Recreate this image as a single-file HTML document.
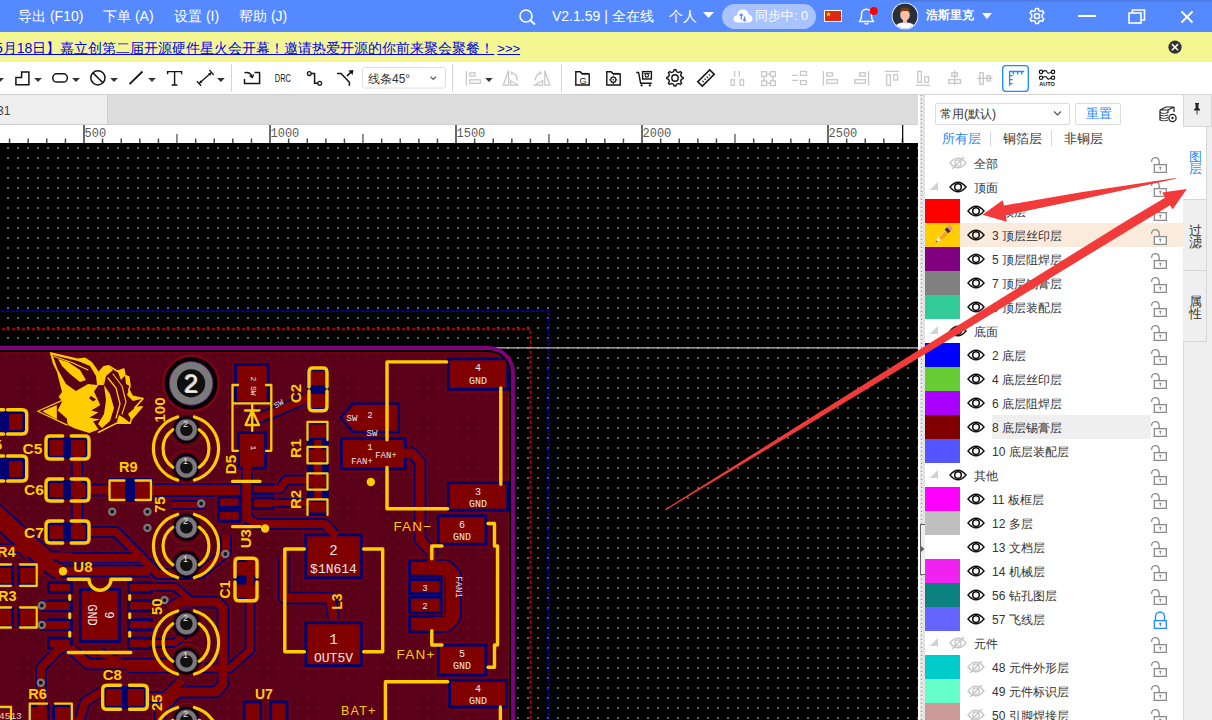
<!DOCTYPE html>
<html><head><meta charset="utf-8">
<style>
*{box-sizing:border-box;margin:0;padding:0}
html,body{width:1212px;height:720px;overflow:hidden;background:#fff;font-family:"Liberation Sans",sans-serif}
.a{position:absolute}
.t{position:absolute;white-space:nowrap;line-height:1}
#top{left:0;top:0;width:1212px;height:32px;background:#5589FF}
#top .t{color:#fff;font-size:14px;top:9px}
#ban{left:0;top:32px;width:1212px;height:30px;background:#F4F791}
#tabs{left:0;top:94px;width:918px;height:31px;background:#DCDCDC;border-top:1px solid #CFCFCF;border-bottom:1px solid #CFCFCF}
</style></head><body>

<!-- TOP BAR -->
<div id="top" class="a">
  <div class="a" style="left:900px;top:0;width:312px;height:3px;background:linear-gradient(#4a78e0,#5589FF)"></div>
  <div class="t" style="left:18px">导出 (F10)</div>
  <div class="t" style="left:103px">下单 (A)</div>
  <div class="t" style="left:174px">设置 (I)</div>
  <div class="t" style="left:239px">帮助 (J)</div>
  <svg class="a" style="left:518px;top:8px" width="20" height="18" viewBox="0 0 20 18"><circle cx="8" cy="8" r="6" fill="none" stroke="#fff" stroke-width="1.6"/><path d="M12.3 12.3L16.5 16" stroke="#fff" stroke-width="1.8" stroke-linecap="round"/></svg>
  <div class="t" style="left:552px">V2.1.59 | 全在线</div>
  <div class="t" style="left:669px">个人</div>
  <svg class="a" style="left:703px;top:12px" width="11" height="7"><path d="M0 0H11L5.5 6Z" fill="#fff"/></svg>
  <div class="a" style="left:722px;top:4px;width:94px;height:25px;border-radius:13px;background:#A8C3FF"></div>
  <svg class="a" style="left:733px;top:8px" width="20" height="16" viewBox="0 0 20 16"><path d="M4.5 14.5C2 14.5 0.5 12.8 0.5 10.8 0.5 8.8 2 7.3 4 7.2 4.4 3.8 7 1.5 10 1.5 13 1.5 15.4 3.6 15.8 6.5 18 6.8 19.5 8.6 19.5 10.7 19.5 12.8 17.8 14.5 15.5 14.5Z" fill="#fff"/><path d="M8.3 6V11.5M6.8 7.5L8.3 6 9.8 7.5M11.5 8.5V13M10 11.5L11.5 13 13 11.5" stroke="#5589FF" stroke-width="1.2" fill="none"/></svg>
  <div class="t" style="left:755px;top:10px;font-size:12.7px">同步中: 0</div>
  <div class="a" style="left:824px;top:10px;width:18px;height:12px;background:#DE2910;border:1px solid #fff"></div>
  <svg class="a" style="left:826px;top:11px" width="7" height="6"><path d="M2.5 0.5L3.2 2.4 5 2.4 3.6 3.6 4.1 5.5 2.5 4.3 0.9 5.5 1.4 3.6 0 2.4 1.8 2.4Z" fill="#FFDE00"/></svg>
  <svg class="a" style="left:857px;top:7px" width="22" height="18" viewBox="0 0 22 18"><path d="M2.5 14.5H16.5C15 13 14.5 11.5 14.5 9V7C14.5 4.2 12.3 2.2 9.5 2.2 6.7 2.2 4.5 4.2 4.5 7V9C4.5 11.5 4 13 2.5 14.5Z" fill="none" stroke="#fff" stroke-width="1.5" stroke-linejoin="round"/><path d="M7.5 16.2Q9.5 18 11.5 16.2" stroke="#fff" stroke-width="1.4" fill="none"/><circle cx="16.8" cy="4" r="4" fill="#F00"/></svg>
  <svg class="a" style="left:891px;top:2px" width="28" height="28" viewBox="0 0 28 28"><defs><clipPath id="av"><circle cx="14" cy="14" r="12.5"/></clipPath></defs><circle cx="14" cy="14" r="13.3" fill="#fff"/><circle cx="14" cy="14" r="12.5" fill="#2B2E3B"/><g clip-path="url(#av)"><path d="M3 28C4 22 8 20.5 14 20.5 20 20.5 24 22 25 28Z" fill="#fff"/><rect x="12" y="16" width="4" height="5" fill="#F2B69A"/><ellipse cx="14" cy="13" rx="4.8" ry="5.8" fill="#F7C2A6"/><path d="M8.8 12C8.5 7 10.5 5.5 14 5.5 17.5 5.5 19.5 7 19.2 12 18.5 9.5 17 9 14 9 11 9 9.5 9.5 8.8 12Z" fill="#7A3A12"/></g></svg>
  <div class="t" style="left:926px;top:9px;font-size:12px;font-weight:bold">浩斯里克</div>
  <svg class="a" style="left:982px;top:13px" width="10" height="6"><path d="M0 0H10L5 6Z" fill="#fff"/></svg>
  <svg class="a" style="left:1028px;top:7px" width="18" height="18" viewBox="0 0 18 18"><path d="M7.6 1.5H10.4L10.9 3.6 12.4 4.4 14.5 3.6 15.9 6 14.3 7.5V10.5L15.9 12 14.5 14.4 12.4 13.6 10.9 14.4 10.4 16.5H7.6L7.1 14.4 5.6 13.6 3.5 14.4 2.1 12 3.7 10.5V7.5L2.1 6 3.5 3.6 5.6 4.4 7.1 3.6Z" fill="none" stroke="#fff" stroke-width="1.5" stroke-linejoin="round"/><circle cx="9" cy="9" r="2.6" fill="none" stroke="#fff" stroke-width="1.5"/></svg>
  <div class="a" style="left:1078px;top:15px;width:18px;height:2px;background:#fff"></div>
  <svg class="a" style="left:1128px;top:9px" width="18" height="15" viewBox="0 0 18 15"><rect x="1" y="4" width="12" height="10" fill="none" stroke="#fff" stroke-width="1.6"/><path d="M4.5 4V1H16.5V11H13" fill="none" stroke="#fff" stroke-width="1.6"/></svg>
  <svg class="a" style="left:1180px;top:10px" width="14" height="14" viewBox="0 0 14 14"><path d="M1.5 1.5L12.5 12.5M12.5 1.5L1.5 12.5" stroke="#fff" stroke-width="1.8"/></svg>
</div>
<!-- BANNER -->
<div id="ban" class="a">
  <div class="t" style="left:-19px;top:9px;font-size:14px;color:#0000EE;text-decoration:underline">【5月18日】嘉立创第二届开源硬件星火会开幕！邀请热爱开源的你前来聚会聚餐！<span style="padding-left:3px;font-size:13px">&gt;&gt;&gt;</span></div>
  <svg class="a" style="left:1168px;top:8px" width="14" height="14" viewBox="0 0 14 14"><circle cx="7" cy="7.2" r="6.6" fill="#333"/><path d="M3.9 4.1L10.1 10.3M10.1 4.1L3.9 10.3" stroke="#fff" stroke-width="1.5"/></svg>
</div>

<!-- TOOLBAR -->
<svg class="a" style="left:0;top:62px" width="1212" height="32" viewBox="0 62 1212 32">
<rect x="0" y="62" width="1212" height="32" fill="#fff"/>
<g fill="#333">
<path d="M-4 78H4L0 82Z"/>
<path d="M34.2 78H41.9L38 82Z"/>
<path d="M72.1 78H80L76 82Z"/>
<path d="M110.1 78H118L114 82Z"/>
<path d="M148.2 78H155.8L152 82Z"/>
<path d="M217 78H224.8L220.9 82Z"/>
<path d="M485.2 78H492.7L489 82Z"/>
</g>
<g fill="none" stroke="#151515" stroke-width="1.5">
<path d="M15.9 84.8V77.6H21.6V71.9H28.9V84.8Z"/>
<rect x="52.75" y="73.85" width="14.6" height="8.2" rx="4.1"/>
<circle cx="97.9" cy="77.8" r="7.1"/>
<path d="M93 72.9L102.9 82.8"/>
<path d="M129.5 84.2L142.5 71.5" stroke-width="1.8"/>
<path d="M167.6 74.2V71.6H181.6V74.2M174.6 71.6V85M171.7 85H177.4" stroke-width="1.4"/>
<path d="M199 83.5L211.5 72.5M196.9 81.2L201.1 85.8M209.4 69.9L213.6 75.1" stroke-width="1.3"/>
<path d="M244.5 79V83.5H259.6V72.5H254.5"/>
<path d="M244.5 72.8Q250.5 71.6 252.3 77.2"/>
<path d="M249.6 75.6L252.4 77.6 253.6 74.6" stroke-width="1.3"/>
<circle cx="309.3" cy="73.6" r="1.9" stroke-width="1.3"/>
<path d="M311.2 73.6H314.6V83.3H317.8"/>
<circle cx="319.7" cy="83.3" r="1.9" stroke-width="1.3"/>
<path d="M337 73.4H341L349.4 82.3V85.8"/>
<path d="M346.9 76.1L351.5 71.6"/>
</g>
<path d="M348.3 70.6L353.3 69.9 352.7 74.9Z" fill="#151515"/>
<g fill="#151515">
<path d="M202.5 82.6L199.6 83.2 200.2 80.3Z"/>
<path d="M208 73.4L211 72.8 210.4 75.7Z"/>
</g>
<text x="274.8" y="81.8" font-family="Liberation Sans" font-size="10.8" textLength="16.2" lengthAdjust="spacingAndGlyphs" fill="#151515">DRC</text>
<rect x="231" y="64" width="1" height="28" fill="#D4D4D4"/>
<rect x="452" y="64" width="1" height="28" fill="#D4D4D4"/>
<rect x="561" y="64" width="1" height="28" fill="#D4D4D4"/>
<rect x="362.5" y="67.5" width="83" height="20.6" rx="2" fill="#fff" stroke="#DCDFE6"/>
<text x="368" y="82.6" font-family="Liberation Sans" font-size="12" fill="#333">线条45°</text>
<path d="M430.6 76.6L433.3 79.4 436 76.6" fill="none" stroke="#555" stroke-width="1.2"/>
<!-- gray icons -->
<g fill="none" stroke="#C8C8C8" stroke-width="1.3">
<path d="M466.4 71.1V85.6"/><rect x="469.9" y="72.9" width="5" height="3.2"/><rect x="469.9" y="79.8" width="10.5" height="3.5"/>
<path d="M503.2 85.2L508.6 70.6V85.2Z"/><path d="M510.6 85.2V80.8L518.6 85.2Z"/><path d="M512.2 72.8Q517.6 74.8 517.2 80.6"/><path d="M511.4 71.6L512.2 72.8 510.8 74"/>
<path d="M534.4 85.2L542.6 80.6V85.2Z"/><path d="M544.8 70.6V85.2H549.8Z"/><path d="M535.4 80.6Q535.4 74.6 541 72.6"/><path d="M539.6 71.6L541 72.6 540.2 74.2"/>
<path d="M734.6 71.1V76.7M739.3 71.1V76.7"/><rect x="730.9" y="79.8" width="3.4" height="5.4"/><rect x="740" y="79.8" width="3.6" height="5.4"/>
<rect x="761.6" y="71.7" width="5" height="4.6"/><rect x="770.4" y="71.7" width="5" height="4.6"/><rect x="761.6" y="80.9" width="5" height="4.6"/><rect x="770.4" y="80.9" width="5" height="4.6"/><path d="M766.6 74H770.4M764.1 76.3V80.9M772.9 76.3V80.9M766.6 83.2H770.4"/>
<path d="M792 75.4H797.9M792 80.3H797.9"/><rect x="800.5" y="71.5" width="6" height="3.8"/><rect x="800.5" y="80.7" width="6" height="3.8"/>
<path d="M823.4 71.1V85.6"/><rect x="826.7" y="72.8" width="5.8" height="3.3"/><rect x="826.7" y="79.7" width="10.7" height="3.5"/>
<path d="M868.6 71.1V85.6"/><rect x="859.6" y="72.8" width="5.8" height="3.3"/><rect x="854.7" y="79.7" width="10.7" height="3.5"/>
<path d="M885 71.4H898.9"/><rect x="886.6" y="74.8" width="3.8" height="10.5"/><rect x="893.8" y="74.8" width="3.8" height="5.2"/>
<path d="M916.1 85.3H930"/><rect x="917.8" y="71.5" width="3.6" height="10.8"/><rect x="924.8" y="76.8" width="3.7" height="5.5"/>
<path d="M954.7 70.4V85.3"/><rect x="951.8" y="72.8" width="5.7" height="3.4"/><rect x="948.8" y="79.7" width="11.7" height="3.6"/>
<path d="M977.1 78.3H992.5"/><rect x="979.8" y="72.8" width="3.5" height="11.5"/><rect x="987" y="75.8" width="3.4" height="5.2"/>
</g>
<!-- dark icons -->
<g fill="none" stroke="#151515" stroke-width="1.4">
<path d="M575.8 85V71.8H580.2L582.4 74H589.2V85Z"/><path d="M580.8 73.4H588.4" stroke-width="1"/>
<path d="M606.8 85V71.8H611.2L613.4 74H620.2V85Z"/><path d="M611.8 73.4H619.4" stroke-width="1"/>
<circle cx="613.3" cy="79.8" r="2.6" stroke-width="1.2"/><circle cx="613.3" cy="79.8" r="0.8" fill="#151515" stroke="none"/><path d="M613.3 75.6V76.6M613.3 83V84M609.2 79.8H610.2M616.4 79.8H617.4" stroke-width="1"/>
<path d="M636.2 72.5H638.6L640.6 83.2H651.8"/><rect x="642.6" y="71.6" width="8.8" height="7.4"/><circle cx="646.8" cy="75.4" r="1.7" stroke-width="1.1"/><path d="M644 73.4H650" stroke-width="0.9"/>
<path d="M674.2 70.8H675.8L676.6 72.8 678.5 73.6 680.4 72.6 681.6 73.8 680.6 75.7 681.4 77.6 683.2 78.4V79.6L681.4 80.4 680.6 82.3 681.6 84.2 680.4 85.4 678.5 84.4 676.6 85.2 675.8 87H674.2L673.4 85.2 671.5 84.4 669.6 85.4 668.4 84.2 669.4 82.3 668.6 80.4 666.8 79.6V78.4L668.6 77.6 669.4 75.7 668.4 73.8 669.6 72.6 671.5 73.6 673.4 72.8Z" transform="translate(0,-1) scale(1,1)"/>
<circle cx="675" cy="78" r="3.2" stroke-width="1.4"/>
</g>
<g fill="#151515">
<circle cx="641.6" cy="85.4" r="1.1"/><circle cx="649.8" cy="85.4" r="1.1"/>
</g>
<text x="579.4" y="84" font-family="Liberation Sans" font-size="9" fill="#151515">G</text>
<g transform="translate(706,78) rotate(-45)">
<rect x="-8.4" y="-3.2" width="16.8" height="6.4" fill="none" stroke="#151515" stroke-width="1.6"/>
<path d="M-4.5 -0.6V1.2M-1.5 -0.6V1.2M1.5 -0.6V1.2M4.5 -0.6V1.2" stroke="#151515" stroke-width="1.1"/>
</g>
<rect x="1002.7" y="65.7" width="25.6" height="25.6" rx="3" fill="#fff" stroke="#1E88FF" stroke-width="1.3"/>
<path d="M1009.6 86V71.5H1024.2M1013.3 71.5V74.5M1017.7 71.5V74.5M1021.7 71.5V74.5M1009.6 75.7H1012.6M1009.6 79.6H1012.6M1009.6 83.6H1012.6" fill="none" stroke="#1E88FF" stroke-width="1.3"/>
<g fill="none" stroke="#151515" stroke-width="1.2">
<circle cx="1041" cy="71.9" r="1.7"/><circle cx="1053" cy="71.9" r="1.7"/><path d="M1042.7 71.9C1045 70 1046.5 70.3 1047 71.9 1047.5 73.5 1049 73.8 1051.3 71.9"/>
<circle cx="1041" cy="77.8" r="1.7"/><circle cx="1053" cy="77.8" r="1.7"/><path d="M1042.7 77.8C1045 75.9 1046.5 76.2 1047 77.8 1047.5 79.4 1049 79.7 1051.3 77.8"/>
</g>
<text x="1039.2" y="85.9" font-family="Liberation Sans" font-weight="bold" font-size="5" textLength="15.6" lengthAdjust="spacingAndGlyphs" fill="#151515">AUTO</text>
</svg>
<!-- TABS -->
<div id="tabs" class="a">
  <div class="a" style="left:0;top:0;width:108px;height:29px;background:#EEEEEE;border-right:1px solid #CFCFCF"></div>
  <div class="t" style="left:-3px;top:10px;font-size:12px;color:#444">31</div>
</div>

<svg class="a" style="left:0;top:125px" width="918" height="18" viewBox="0 125 918 18">
<rect x="0" y="125" width="918" height="18" fill="#fff"/>
<rect x="8.8" y="138.5" width="1.5" height="4.5" fill="#4A4A4A"/>
<rect x="27.4" y="138.5" width="1.5" height="4.5" fill="#4A4A4A"/>
<rect x="46.0" y="138.5" width="1.5" height="4.5" fill="#4A4A4A"/>
<rect x="64.7" y="138.5" width="1.5" height="4.5" fill="#4A4A4A"/>
<rect x="83.0" y="125" width="2" height="18" fill="#6A6A6A"/>
<rect x="101.8" y="138.5" width="1.5" height="4.5" fill="#4A4A4A"/>
<rect x="120.5" y="138.5" width="1.5" height="4.5" fill="#4A4A4A"/>
<rect x="139.1" y="138.5" width="1.5" height="4.5" fill="#4A4A4A"/>
<rect x="157.7" y="138.5" width="1.5" height="4.5" fill="#4A4A4A"/>
<rect x="176.2" y="134" width="1.5" height="9" fill="#6A6A6A"/>
<rect x="194.9" y="138.5" width="1.5" height="4.5" fill="#4A4A4A"/>
<rect x="213.5" y="138.5" width="1.5" height="4.5" fill="#4A4A4A"/>
<rect x="232.1" y="138.5" width="1.5" height="4.5" fill="#4A4A4A"/>
<rect x="250.7" y="138.5" width="1.5" height="4.5" fill="#4A4A4A"/>
<rect x="269.0" y="125" width="2" height="18" fill="#6A6A6A"/>
<rect x="287.9" y="138.5" width="1.5" height="4.5" fill="#4A4A4A"/>
<rect x="306.5" y="138.5" width="1.5" height="4.5" fill="#4A4A4A"/>
<rect x="325.1" y="138.5" width="1.5" height="4.5" fill="#4A4A4A"/>
<rect x="343.7" y="138.5" width="1.5" height="4.5" fill="#4A4A4A"/>
<rect x="362.2" y="134" width="1.5" height="9" fill="#6A6A6A"/>
<rect x="380.9" y="138.5" width="1.5" height="4.5" fill="#4A4A4A"/>
<rect x="399.5" y="138.5" width="1.5" height="4.5" fill="#4A4A4A"/>
<rect x="418.1" y="138.5" width="1.5" height="4.5" fill="#4A4A4A"/>
<rect x="436.7" y="138.5" width="1.5" height="4.5" fill="#4A4A4A"/>
<rect x="455.0" y="125" width="2" height="18" fill="#6A6A6A"/>
<rect x="473.9" y="138.5" width="1.5" height="4.5" fill="#4A4A4A"/>
<rect x="492.5" y="138.5" width="1.5" height="4.5" fill="#4A4A4A"/>
<rect x="511.1" y="138.5" width="1.5" height="4.5" fill="#4A4A4A"/>
<rect x="529.7" y="138.5" width="1.5" height="4.5" fill="#4A4A4A"/>
<rect x="548.2" y="134" width="1.5" height="9" fill="#6A6A6A"/>
<rect x="566.9" y="138.5" width="1.5" height="4.5" fill="#4A4A4A"/>
<rect x="585.5" y="138.5" width="1.5" height="4.5" fill="#4A4A4A"/>
<rect x="604.1" y="138.5" width="1.5" height="4.5" fill="#4A4A4A"/>
<rect x="622.7" y="138.5" width="1.5" height="4.5" fill="#4A4A4A"/>
<rect x="641.0" y="125" width="2" height="18" fill="#6A6A6A"/>
<rect x="659.9" y="138.5" width="1.5" height="4.5" fill="#4A4A4A"/>
<rect x="678.5" y="138.5" width="1.5" height="4.5" fill="#4A4A4A"/>
<rect x="697.1" y="138.5" width="1.5" height="4.5" fill="#4A4A4A"/>
<rect x="715.7" y="138.5" width="1.5" height="4.5" fill="#4A4A4A"/>
<rect x="734.2" y="134" width="1.5" height="9" fill="#6A6A6A"/>
<rect x="752.9" y="138.5" width="1.5" height="4.5" fill="#4A4A4A"/>
<rect x="771.5" y="138.5" width="1.5" height="4.5" fill="#4A4A4A"/>
<rect x="790.1" y="138.5" width="1.5" height="4.5" fill="#4A4A4A"/>
<rect x="808.7" y="138.5" width="1.5" height="4.5" fill="#4A4A4A"/>
<rect x="827.0" y="125" width="2" height="18" fill="#6A6A6A"/>
<rect x="845.9" y="138.5" width="1.5" height="4.5" fill="#4A4A4A"/>
<rect x="864.5" y="138.5" width="1.5" height="4.5" fill="#4A4A4A"/>
<rect x="883.1" y="138.5" width="1.5" height="4.5" fill="#4A4A4A"/>
<rect x="901.7" y="138.5" width="1.5" height="4.5" fill="#4A4A4A"/>
<text x="84.5" y="136.5" font-family="Liberation Mono" font-size="12" fill="#5A5A5A">500</text>
<text x="270.5" y="136.5" font-family="Liberation Mono" font-size="12" fill="#5A5A5A">1000</text>
<text x="456.5" y="136.5" font-family="Liberation Mono" font-size="12" fill="#5A5A5A">1500</text>
<text x="642.5" y="136.5" font-family="Liberation Mono" font-size="12" fill="#5A5A5A">2000</text>
<text x="828.5" y="136.5" font-family="Liberation Mono" font-size="12" fill="#5A5A5A">2500</text>
<rect x="902" y="125" width="1.3" height="18" fill="#111"/>
</svg>
<svg class="a" style="left:0;top:143px" width="918" height="577" viewBox="0 143 918 577">
<defs><pattern id="dots" x="0" y="0" width="10" height="10" patternUnits="userSpaceOnUse"><rect x="7" y="7" width="2" height="2" fill="#606060"/></pattern></defs>
<rect x="0" y="143" width="918" height="577" fill="#000"/>
<rect x="0" y="143" width="918" height="577" fill="url(#dots)"/>
<path d="M0 311H549V720" fill="none" stroke="#0000A0" stroke-width="2" stroke-dasharray="3 2" stroke-dashoffset="4"/>
<path d="M0 329.2H530.5V720" fill="none" stroke="#B80000" stroke-width="2" stroke-dasharray="3 2" stroke-dashoffset="3"/>
<path d="M494 347.8H918" stroke="#BDBDBD" stroke-width="1.3"/>
<path d="M-10 352H486A23 23 0 0 1 509 375V730H-10Z" fill="#5A0019" stroke="#70000F" stroke-width="3"/>
<rect x="0" y="353" width="509" height="367" fill="url(#dots)" opacity="0.15"/>
<path d="M-5.0 506.0 L50.0 556.0 L72.0 556.0" fill="none" stroke="#6E0010" stroke-width="14" stroke-linejoin="round"/>
<path d="M-5.0 506.0 L50.0 556.0 L72.0 556.0" fill="none" stroke="#000070" stroke-width="11" stroke-linejoin="round"/>
<path d="M-5.0 520.0 L40.0 560.0 L40.0 575.0" fill="none" stroke="#6E0010" stroke-width="13" stroke-linejoin="round"/>
<path d="M-5.0 520.0 L40.0 560.0 L40.0 575.0" fill="none" stroke="#000070" stroke-width="10" stroke-linejoin="round"/>
<path d="M77.0 456.0 L77.0 525.0" fill="none" stroke="#6E0010" stroke-width="15.5" stroke-linejoin="round"/>
<path d="M77.0 456.0 L77.0 525.0" fill="none" stroke="#000070" stroke-width="12.5" stroke-linejoin="round"/>
<path d="M89.0 490.0 L110.0 490.0" fill="none" stroke="#6E0010" stroke-width="16" stroke-linejoin="round"/>
<path d="M89.0 490.0 L110.0 490.0" fill="none" stroke="#000070" stroke-width="13" stroke-linejoin="round"/>
<path d="M143.0 490.0 L240.0 490.0" fill="none" stroke="#6E0010" stroke-width="17" stroke-linejoin="round"/>
<path d="M143.0 490.0 L240.0 490.0" fill="none" stroke="#000070" stroke-width="14" stroke-linejoin="round"/>
<path d="M89.0 532.0 L116.0 532.0 L158.0 574.0 L200.0 574.0 L226.0 552.0 L226.0 535.0" fill="none" stroke="#6E0010" stroke-width="15" stroke-linejoin="round"/>
<path d="M89.0 532.0 L116.0 532.0 L158.0 574.0 L200.0 574.0 L226.0 552.0 L226.0 535.0" fill="none" stroke="#000070" stroke-width="12" stroke-linejoin="round"/>
<path d="M-5.0 548.0 L20.0 548.0 L28.0 556.0" fill="none" stroke="#6E0010" stroke-width="13" stroke-linejoin="round"/>
<path d="M-5.0 548.0 L20.0 548.0 L28.0 556.0" fill="none" stroke="#000070" stroke-width="10" stroke-linejoin="round"/>
<path d="M168.0 609.0 L180.0 602.0 L217.0 602.0 L223.0 608.0 L223.0 684.0 L216.0 692.0 L178.0 692.0 L160.0 710.0 L160.0 725.0" fill="none" stroke="#6E0010" stroke-width="16" stroke-linejoin="round"/>
<path d="M168.0 609.0 L180.0 602.0 L217.0 602.0 L223.0 608.0 L223.0 684.0 L216.0 692.0 L178.0 692.0 L160.0 710.0 L160.0 725.0" fill="none" stroke="#000070" stroke-width="13" stroke-linejoin="round"/>
<path d="M100.0 652.0 L130.0 668.0 L230.0 668.0 L250.0 650.0 L250.0 560.0" fill="none" stroke="#6E0010" stroke-width="14" stroke-linejoin="round"/>
<path d="M100.0 652.0 L130.0 668.0 L230.0 668.0 L250.0 650.0 L250.0 560.0" fill="none" stroke="#000070" stroke-width="11" stroke-linejoin="round"/>
<path d="M247.0 466.0 L247.0 518.0 L256.0 524.0 L325.0 524.0 L336.0 536.0" fill="none" stroke="#6E0010" stroke-width="15" stroke-linejoin="round"/>
<path d="M247.0 466.0 L247.0 518.0 L256.0 524.0 L325.0 524.0 L336.0 536.0" fill="none" stroke="#000070" stroke-width="12" stroke-linejoin="round"/>
<path d="M270.0 489.0 L280.0 489.0 L286.0 480.0 L309.0 480.0" fill="none" stroke="#6E0010" stroke-width="14" stroke-linejoin="round"/>
<path d="M270.0 489.0 L280.0 489.0 L286.0 480.0 L309.0 480.0" fill="none" stroke="#000070" stroke-width="11" stroke-linejoin="round"/>
<path d="M270.0 503.0 L309.0 503.0" fill="none" stroke="#6E0010" stroke-width="13" stroke-linejoin="round"/>
<path d="M270.0 503.0 L309.0 503.0" fill="none" stroke="#000070" stroke-width="10" stroke-linejoin="round"/>
<path d="M318.0 440.0 L318.0 500.0" fill="none" stroke="#6E0010" stroke-width="15" stroke-linejoin="round"/>
<path d="M318.0 440.0 L318.0 500.0" fill="none" stroke="#000070" stroke-width="12" stroke-linejoin="round"/>
<path d="M252.0 410.0 L258.0 418.0 L280.0 410.0 L309.0 397.0" fill="none" stroke="#6E0010" stroke-width="15" stroke-linejoin="round"/>
<path d="M252.0 410.0 L258.0 418.0 L280.0 410.0 L309.0 397.0" fill="none" stroke="#000070" stroke-width="12" stroke-linejoin="round"/>
<path d="M284.0 555.0 L284.0 598.0 L330.0 598.0 L334.0 620.0" fill="none" stroke="#6E0010" stroke-width="16" stroke-linejoin="round"/>
<path d="M284.0 555.0 L284.0 598.0 L330.0 598.0 L334.0 620.0" fill="none" stroke="#000070" stroke-width="13" stroke-linejoin="round"/>
<path d="M395.0 453.0 L412.0 453.0 L420.0 462.0 L420.0 540.0 L432.0 552.0 L432.0 565.0" fill="none" stroke="#6E0010" stroke-width="16" stroke-linejoin="round"/>
<path d="M395.0 453.0 L412.0 453.0 L420.0 462.0 L420.0 540.0 L432.0 552.0 L432.0 565.0" fill="none" stroke="#000070" stroke-width="13" stroke-linejoin="round"/>
<path d="M434.0 568.0 L446.0 568.0 L453.0 575.0 L453.0 617.0 L446.0 624.0 L434.0 624.0" fill="none" stroke="#6E0010" stroke-width="21" stroke-linejoin="round"/>
<path d="M434.0 568.0 L446.0 568.0 L453.0 575.0 L453.0 617.0 L446.0 624.0 L434.0 624.0" fill="none" stroke="#000070" stroke-width="18" stroke-linejoin="round"/>
<path d="M130.0 587.0 L175.0 587.0 L190.0 600.0" fill="none" stroke="#6E0010" stroke-width="13" stroke-linejoin="round"/>
<path d="M130.0 587.0 L175.0 587.0 L190.0 600.0" fill="none" stroke="#000070" stroke-width="10" stroke-linejoin="round"/>
<path d="M130.0 606.0 L160.0 606.0" fill="none" stroke="#6E0010" stroke-width="13" stroke-linejoin="round"/>
<path d="M130.0 606.0 L160.0 606.0" fill="none" stroke="#000070" stroke-width="10" stroke-linejoin="round"/>
<path d="M130.0 625.0 L155.0 625.0" fill="none" stroke="#6E0010" stroke-width="13" stroke-linejoin="round"/>
<path d="M130.0 625.0 L155.0 625.0" fill="none" stroke="#000070" stroke-width="10" stroke-linejoin="round"/>
<path d="M130.0 643.0 L175.0 643.0 L200.0 620.0" fill="none" stroke="#6E0010" stroke-width="13" stroke-linejoin="round"/>
<path d="M130.0 643.0 L175.0 643.0 L200.0 620.0" fill="none" stroke="#000070" stroke-width="10" stroke-linejoin="round"/>
<path d="M41.0 606.0 L70.0 606.0" fill="none" stroke="#6E0010" stroke-width="15" stroke-linejoin="round"/>
<path d="M41.0 606.0 L70.0 606.0" fill="none" stroke="#000070" stroke-width="12" stroke-linejoin="round"/>
<path d="M41.0 625.0 L70.0 625.0" fill="none" stroke="#6E0010" stroke-width="15" stroke-linejoin="round"/>
<path d="M41.0 625.0 L70.0 625.0" fill="none" stroke="#000070" stroke-width="12" stroke-linejoin="round"/>
<path d="M41.0 725.0 L41.0 668.0 L58.0 650.0 L70.0 644.0" fill="none" stroke="#6E0010" stroke-width="15" stroke-linejoin="round"/>
<path d="M41.0 725.0 L41.0 668.0 L58.0 650.0 L70.0 644.0" fill="none" stroke="#000070" stroke-width="12" stroke-linejoin="round"/>
<path d="M-5.0 517.0 L50.0 566.0 L62.0 574.0" fill="none" stroke="#6E0010" stroke-width="21" stroke-linejoin="round"/>
<path d="M-5.0 517.0 L50.0 566.0 L62.0 574.0" fill="none" stroke="#000070" stroke-width="18" stroke-linejoin="round"/>
<path d="M60.0 558.0 L140.0 558.0" fill="none" stroke="#6E0010" stroke-width="15" stroke-linejoin="round"/>
<path d="M60.0 558.0 L140.0 558.0" fill="none" stroke="#000070" stroke-width="12" stroke-linejoin="round"/>
<path d="M62.0 571.0 L150.0 571.0" fill="none" stroke="#6E0010" stroke-width="16" stroke-linejoin="round"/>
<path d="M62.0 571.0 L150.0 571.0" fill="none" stroke="#000070" stroke-width="13" stroke-linejoin="round"/>
<path d="M70.0 648.0 L88.0 664.0 L185.0 664.0" fill="none" stroke="#6E0010" stroke-width="16" stroke-linejoin="round"/>
<path d="M70.0 648.0 L88.0 664.0 L185.0 664.0" fill="none" stroke="#000070" stroke-width="13" stroke-linejoin="round"/>
<path d="M101.0 692.0 L85.0 702.0 L78.0 725.0" fill="none" stroke="#6E0010" stroke-width="15" stroke-linejoin="round"/>
<path d="M101.0 692.0 L85.0 702.0 L78.0 725.0" fill="none" stroke="#000070" stroke-width="12" stroke-linejoin="round"/>
<path d="M148.0 697.0 L165.0 697.0 L182.0 680.0" fill="none" stroke="#6E0010" stroke-width="15" stroke-linejoin="round"/>
<path d="M148.0 697.0 L165.0 697.0 L182.0 680.0" fill="none" stroke="#000070" stroke-width="12" stroke-linejoin="round"/>
<path d="M172.0 505.0 L205.0 505.0" fill="none" stroke="#6E0010" stroke-width="13" stroke-linejoin="round"/>
<path d="M172.0 505.0 L205.0 505.0" fill="none" stroke="#000070" stroke-width="10" stroke-linejoin="round"/>
<circle cx="191.1" cy="383.4" r="28" fill="none" stroke="#8A0A0A" stroke-width="1.3"/>
<circle cx="191.1" cy="383.4" r="26.2" fill="#050005"/>
<circle cx="191.1" cy="383.4" r="21.8" fill="#7A7A7A" stroke="#5A1A6A" stroke-width="0.8"/>
<circle cx="191.1" cy="383.4" r="14.1" fill="#0E0E0E"/>
<text x="191.6" y="392.6" font-family="Liberation Sans" font-size="26" fill="#DADADA" text-anchor="middle">2</text>
<text x="190.6" y="392.2" font-family="Liberation Sans" font-size="26" fill="#F4F4F4" text-anchor="middle" opacity="0.8">2</text>
<rect x="-18.3" y="407.2" width="18.6" height="29.6" fill="none" stroke="#6E0010" stroke-width="1.6" rx="2"/>
<rect x="4.7" y="409.7" width="22.1" height="24.6" fill="none" stroke="#6E0010" stroke-width="1.6" rx="2"/>
<rect x="-18.3" y="453.7" width="18.6" height="30.6" fill="none" stroke="#6E0010" stroke-width="1.6" rx="2"/>
<rect x="4.7" y="456.7" width="22.1" height="24.6" fill="none" stroke="#6E0010" stroke-width="1.6" rx="2"/>
<rect x="45.2" y="435.7" width="22.4" height="24.6" fill="none" stroke="#6E0010" stroke-width="1.6" rx="2"/>
<rect x="66.7" y="435.7" width="23.1" height="24.6" fill="none" stroke="#6E0010" stroke-width="1.6" rx="2"/>
<rect x="45.2" y="478.7" width="22.4" height="22.6" fill="none" stroke="#6E0010" stroke-width="1.6" rx="2"/>
<rect x="66.7" y="478.7" width="23.1" height="22.6" fill="none" stroke="#6E0010" stroke-width="1.6" rx="2"/>
<rect x="45.2" y="520.7" width="22.4" height="22.6" fill="none" stroke="#6E0010" stroke-width="1.6" rx="2"/>
<rect x="66.7" y="520.7" width="23.1" height="22.6" fill="none" stroke="#6E0010" stroke-width="1.6" rx="2"/>
<rect x="105.7" y="476.7" width="23.6" height="26.6" fill="none" stroke="#6E0010" stroke-width="1.6" rx="2"/>
<rect x="130.7" y="476.7" width="23.6" height="26.6" fill="none" stroke="#6E0010" stroke-width="1.6" rx="2"/>
<rect x="232.7" y="361.7" width="38.3" height="43.6" fill="none" stroke="#6E0010" stroke-width="1.6" rx="2"/>
<rect x="235.7" y="429.7" width="32.8" height="41.3" fill="none" stroke="#6E0010" stroke-width="1.6" rx="2"/>
<rect x="215.7" y="481.7" width="27.1" height="15.1" fill="none" stroke="#6E0010" stroke-width="1.6" rx="2"/>
<rect x="215.7" y="494.1" width="27.1" height="16.2" fill="none" stroke="#6E0010" stroke-width="1.6" rx="2"/>
<rect x="215.7" y="507.7" width="27.1" height="16.4" fill="none" stroke="#6E0010" stroke-width="1.6" rx="2"/>
<rect x="249.7" y="481.4" width="26.2" height="15.4" fill="none" stroke="#6E0010" stroke-width="1.6" rx="2"/>
<rect x="249.7" y="495.0" width="26.2" height="16.4" fill="none" stroke="#6E0010" stroke-width="1.6" rx="2"/>
<rect x="305.2" y="366.7" width="25.1" height="22.6" fill="none" stroke="#6E0010" stroke-width="1.6" rx="2"/>
<rect x="305.2" y="389.7" width="25.1" height="22.6" fill="none" stroke="#6E0010" stroke-width="1.6" rx="2"/>
<rect x="305.2" y="420.2" width="25.1" height="22.1" fill="none" stroke="#6E0010" stroke-width="1.6" rx="2"/>
<rect x="305.2" y="445.2" width="25.1" height="20.1" fill="none" stroke="#6E0010" stroke-width="1.6" rx="2"/>
<rect x="305.2" y="471.7" width="25.1" height="19.6" fill="none" stroke="#6E0010" stroke-width="1.6" rx="2"/>
<rect x="305.2" y="497.7" width="25.1" height="19.1" fill="none" stroke="#6E0010" stroke-width="1.6" rx="2"/>
<rect x="445.4" y="356.0" width="65.2" height="36.2" fill="none" stroke="#6E0010" stroke-width="1.6" rx="2"/>
<rect x="445.4" y="479.9" width="65.2" height="33.1" fill="none" stroke="#6E0010" stroke-width="1.6" rx="2"/>
<rect x="338.4" y="435.5" width="69.8" height="36.2" fill="none" stroke="#6E0010" stroke-width="1.6" rx="2"/>
<rect x="435.4" y="512.9" width="53.4" height="34.1" fill="none" stroke="#6E0010" stroke-width="1.6" rx="2"/>
<rect x="435.4" y="642.2" width="53.4" height="35.8" fill="none" stroke="#6E0010" stroke-width="1.6" rx="2"/>
<rect x="406.7" y="557.6" width="37.3" height="21.4" fill="none" stroke="#6E0010" stroke-width="1.6" rx="2"/>
<rect x="406.7" y="576.7" width="37.3" height="19.8" fill="none" stroke="#6E0010" stroke-width="1.6" rx="2"/>
<rect x="406.7" y="594.3" width="37.3" height="21.4" fill="none" stroke="#6E0010" stroke-width="1.6" rx="2"/>
<rect x="406.7" y="613.5" width="37.3" height="21.4" fill="none" stroke="#6E0010" stroke-width="1.6" rx="2"/>
<rect x="302.9" y="532.0" width="61.3" height="48.6" fill="none" stroke="#6E0010" stroke-width="1.6" rx="2"/>
<rect x="302.9" y="619.9" width="61.3" height="48.5" fill="none" stroke="#6E0010" stroke-width="1.6" rx="2"/>
<rect x="446.7" y="677.4" width="62.8" height="32.5" fill="none" stroke="#6E0010" stroke-width="1.6" rx="2"/>
<rect x="77.4" y="586.5" width="45.2" height="57.8" fill="none" stroke="#6E0010" stroke-width="1.6" rx="2"/>
<rect x="45.7" y="579.7" width="28.6" height="15.6" fill="none" stroke="#6E0010" stroke-width="1.6" rx="2"/>
<rect x="45.7" y="597.7" width="28.6" height="16.1" fill="none" stroke="#6E0010" stroke-width="1.6" rx="2"/>
<rect x="45.7" y="616.7" width="28.6" height="16.1" fill="none" stroke="#6E0010" stroke-width="1.6" rx="2"/>
<rect x="45.7" y="635.2" width="28.6" height="16.1" fill="none" stroke="#6E0010" stroke-width="1.6" rx="2"/>
<rect x="125.7" y="579.7" width="28.6" height="15.6" fill="none" stroke="#6E0010" stroke-width="1.6" rx="2"/>
<rect x="125.7" y="597.7" width="28.6" height="16.1" fill="none" stroke="#6E0010" stroke-width="1.6" rx="2"/>
<rect x="125.7" y="616.7" width="28.6" height="16.1" fill="none" stroke="#6E0010" stroke-width="1.6" rx="2"/>
<rect x="125.7" y="635.2" width="28.6" height="16.1" fill="none" stroke="#6E0010" stroke-width="1.6" rx="2"/>
<rect x="-18.3" y="563.7" width="33.6" height="23.6" fill="none" stroke="#6E0010" stroke-width="1.6" rx="2"/>
<rect x="15.7" y="563.7" width="23.6" height="23.6" fill="none" stroke="#6E0010" stroke-width="1.6" rx="2"/>
<rect x="-18.3" y="605.7" width="33.6" height="23.6" fill="none" stroke="#6E0010" stroke-width="1.6" rx="2"/>
<rect x="15.7" y="605.7" width="23.6" height="23.6" fill="none" stroke="#6E0010" stroke-width="1.6" rx="2"/>
<rect x="101.7" y="684.7" width="24.6" height="25.6" fill="none" stroke="#6E0010" stroke-width="1.6" rx="2"/>
<rect x="123.7" y="684.7" width="24.6" height="25.6" fill="none" stroke="#6E0010" stroke-width="1.6" rx="2"/>
<rect x="241.3" y="699.0" width="21.9" height="30.3" fill="none" stroke="#6E0010" stroke-width="1.6" rx="2"/>
<rect x="267.9" y="699.0" width="22.0" height="30.3" fill="none" stroke="#6E0010" stroke-width="1.6" rx="2"/>
<rect x="232.2" y="557.7" width="27.1" height="22.1" fill="none" stroke="#6E0010" stroke-width="1.6" rx="2"/>
<rect x="232.2" y="580.2" width="27.1" height="22.1" fill="none" stroke="#6E0010" stroke-width="1.6" rx="2"/>
<rect x="26.7" y="702.7" width="24.6" height="26.6" fill="none" stroke="#6E0010" stroke-width="1.6" rx="2"/>
<rect x="50.7" y="702.7" width="23.6" height="26.6" fill="none" stroke="#6E0010" stroke-width="1.6" rx="2"/>
<rect x="-18.3" y="704.7" width="31.6" height="24.6" fill="none" stroke="#6E0010" stroke-width="1.6" rx="2"/>
<rect x="45.2" y="435.7" width="44.6" height="24.6" fill="none" stroke="#6E0010" stroke-width="1.6" rx="2"/>
<rect x="46.7" y="437.2" width="41.6" height="21.6" fill="#000070"/>
<rect x="45.2" y="478.7" width="44.6" height="22.6" fill="none" stroke="#6E0010" stroke-width="1.6" rx="2"/>
<rect x="46.7" y="480.2" width="41.6" height="19.6" fill="#000070"/>
<rect x="45.2" y="520.7" width="44.6" height="22.6" fill="none" stroke="#6E0010" stroke-width="1.6" rx="2"/>
<rect x="46.7" y="522.2" width="41.6" height="19.6" fill="#000070"/>
<rect x="105.7" y="476.7" width="48.6" height="26.6" fill="none" stroke="#6E0010" stroke-width="1.6" rx="2"/>
<rect x="107.2" y="478.2" width="45.6" height="23.6" fill="#000070"/>
<rect x="101.7" y="684.7" width="46.6" height="25.6" fill="none" stroke="#6E0010" stroke-width="1.6" rx="2"/>
<rect x="103.2" y="686.2" width="43.6" height="22.6" fill="#000070"/>
<rect x="232.2" y="557.7" width="27.1" height="44.6" fill="none" stroke="#6E0010" stroke-width="1.6" rx="2"/>
<rect x="233.7" y="559.2" width="24.1" height="41.6" fill="#000070"/>
<rect x="305.2" y="366.7" width="25.1" height="45.6" fill="none" stroke="#6E0010" stroke-width="1.6" rx="2"/>
<rect x="306.7" y="368.2" width="22.1" height="42.6" fill="#000070"/>
<rect x="305.2" y="420.2" width="25.1" height="96.6" fill="none" stroke="#6E0010" stroke-width="1.6" rx="2"/>
<rect x="306.7" y="421.7" width="22.1" height="93.6" fill="#000070"/>
<rect x="-16.8" y="408.7" width="15.6" height="26.6" fill="#000070"/>
<rect x="6.2" y="411.2" width="19.1" height="21.6" fill="#000070"/>
<rect x="-16.8" y="455.2" width="15.6" height="27.6" fill="#000070"/>
<rect x="6.2" y="458.2" width="19.1" height="21.6" fill="#000070"/>
<rect x="46.7" y="437.2" width="19.4" height="21.6" fill="#000070"/>
<rect x="68.2" y="437.2" width="20.1" height="21.6" fill="#000070"/>
<rect x="46.7" y="480.2" width="19.4" height="19.6" fill="#000070"/>
<rect x="68.2" y="480.2" width="20.1" height="19.6" fill="#000070"/>
<rect x="46.7" y="522.2" width="19.4" height="19.6" fill="#000070"/>
<rect x="68.2" y="522.2" width="20.1" height="19.6" fill="#000070"/>
<rect x="107.2" y="478.2" width="20.6" height="23.6" fill="#000070"/>
<rect x="132.2" y="478.2" width="20.6" height="23.6" fill="#000070"/>
<rect x="234.2" y="363.2" width="35.3" height="40.6" fill="#000070"/>
<rect x="237.2" y="431.2" width="29.8" height="38.3" fill="#000070"/>
<rect x="217.2" y="483.2" width="24.1" height="12.1" fill="#000070"/>
<rect x="217.2" y="495.6" width="24.1" height="13.2" fill="#000070"/>
<rect x="217.2" y="509.2" width="24.1" height="13.4" fill="#000070"/>
<rect x="251.2" y="482.9" width="23.2" height="12.4" fill="#000070"/>
<rect x="251.2" y="496.5" width="23.2" height="13.4" fill="#000070"/>
<rect x="306.7" y="368.2" width="22.1" height="19.6" fill="#000070"/>
<rect x="306.7" y="391.2" width="22.1" height="19.6" fill="#000070"/>
<rect x="306.7" y="421.7" width="22.1" height="19.1" fill="#000070"/>
<rect x="306.7" y="446.7" width="22.1" height="17.1" fill="#000070"/>
<rect x="306.7" y="473.2" width="22.1" height="16.6" fill="#000070"/>
<rect x="306.7" y="499.2" width="22.1" height="16.1" fill="#000070"/>
<rect x="446.9" y="357.5" width="62.2" height="33.2" fill="#000070"/>
<rect x="446.9" y="481.4" width="62.2" height="30.1" fill="#000070"/>
<rect x="339.9" y="437.0" width="66.8" height="33.2" fill="#000070"/>
<rect x="436.9" y="514.4" width="50.4" height="31.1" fill="#000070"/>
<rect x="436.9" y="643.7" width="50.4" height="32.8" fill="#000070"/>
<rect x="408.2" y="559.1" width="34.3" height="18.4" fill="#000070"/>
<rect x="408.2" y="578.2" width="34.3" height="16.8" fill="#000070"/>
<rect x="408.2" y="595.8" width="34.3" height="18.4" fill="#000070"/>
<rect x="408.2" y="615.0" width="34.3" height="18.4" fill="#000070"/>
<rect x="304.4" y="533.5" width="58.3" height="45.6" fill="#000070"/>
<rect x="304.4" y="621.4" width="58.3" height="45.5" fill="#000070"/>
<rect x="448.2" y="678.9" width="59.8" height="29.5" fill="#000070"/>
<rect x="78.9" y="588.0" width="42.2" height="54.8" fill="#000070"/>
<rect x="47.2" y="581.2" width="25.6" height="12.6" fill="#000070"/>
<rect x="47.2" y="599.2" width="25.6" height="13.1" fill="#000070"/>
<rect x="47.2" y="618.2" width="25.6" height="13.1" fill="#000070"/>
<rect x="47.2" y="636.7" width="25.6" height="13.1" fill="#000070"/>
<rect x="127.2" y="581.2" width="25.6" height="12.6" fill="#000070"/>
<rect x="127.2" y="599.2" width="25.6" height="13.1" fill="#000070"/>
<rect x="127.2" y="618.2" width="25.6" height="13.1" fill="#000070"/>
<rect x="127.2" y="636.7" width="25.6" height="13.1" fill="#000070"/>
<rect x="-16.8" y="565.2" width="30.6" height="20.6" fill="#000070"/>
<rect x="17.2" y="565.2" width="20.6" height="20.6" fill="#000070"/>
<rect x="-16.8" y="607.2" width="30.6" height="20.6" fill="#000070"/>
<rect x="17.2" y="607.2" width="20.6" height="20.6" fill="#000070"/>
<rect x="103.2" y="686.2" width="21.6" height="22.6" fill="#000070"/>
<rect x="125.2" y="686.2" width="21.6" height="22.6" fill="#000070"/>
<rect x="242.8" y="700.5" width="18.9" height="27.3" fill="#000070"/>
<rect x="269.4" y="700.5" width="19.0" height="27.3" fill="#000070"/>
<rect x="233.7" y="559.2" width="24.1" height="19.1" fill="#000070"/>
<rect x="233.7" y="581.7" width="24.1" height="19.1" fill="#000070"/>
<rect x="28.2" y="704.2" width="21.6" height="23.6" fill="#000070"/>
<rect x="52.2" y="704.2" width="20.6" height="23.6" fill="#000070"/>
<rect x="-16.8" y="706.2" width="28.6" height="21.6" fill="#000070"/>
<rect x="-14.0" y="411.5" width="10.0" height="21.0" fill="#800000"/>
<rect x="9.0" y="414.0" width="13.5" height="16.0" fill="#800000"/>
<rect x="-14.0" y="458.0" width="10.0" height="22.0" fill="#800000"/>
<rect x="9.0" y="461.0" width="13.5" height="16.0" fill="#800000"/>
<rect x="49.5" y="440.0" width="13.8" height="16.0" fill="#800000"/>
<rect x="71.0" y="440.0" width="14.5" height="16.0" fill="#800000"/>
<rect x="49.5" y="483.0" width="13.8" height="14.0" fill="#800000"/>
<rect x="71.0" y="483.0" width="14.5" height="14.0" fill="#800000"/>
<rect x="49.5" y="525.0" width="13.8" height="14.0" fill="#800000"/>
<rect x="71.0" y="525.0" width="14.5" height="14.0" fill="#800000"/>
<rect x="110.0" y="481.0" width="15.0" height="18.0" fill="#800000"/>
<rect x="135.0" y="481.0" width="15.0" height="18.0" fill="#800000"/>
<rect x="237.0" y="366.0" width="29.7" height="35.0" fill="#800000"/>
<rect x="240.0" y="434.0" width="24.2" height="32.7" fill="#800000"/>
<rect x="220.0" y="486.0" width="18.5" height="6.5" fill="#800000"/>
<rect x="220.0" y="498.4" width="18.5" height="7.6" fill="#800000"/>
<rect x="220.0" y="512.0" width="18.5" height="7.8" fill="#800000"/>
<rect x="254.0" y="485.7" width="17.6" height="6.8" fill="#800000"/>
<rect x="254.0" y="499.3" width="17.6" height="7.8" fill="#800000"/>
<rect x="309.5" y="371.0" width="16.5" height="14.0" fill="#800000"/>
<rect x="309.5" y="394.0" width="16.5" height="14.0" fill="#800000"/>
<rect x="309.5" y="424.5" width="16.5" height="13.5" fill="#800000"/>
<rect x="309.5" y="449.5" width="16.5" height="11.5" fill="#800000"/>
<rect x="309.5" y="476.0" width="16.5" height="11.0" fill="#800000"/>
<rect x="309.5" y="502.0" width="16.5" height="10.5" fill="#800000"/>
<rect x="449.7" y="360.3" width="56.6" height="27.6" fill="#800000"/>
<rect x="449.7" y="484.2" width="56.6" height="24.5" fill="#800000"/>
<rect x="342.7" y="439.8" width="61.2" height="27.6" fill="#800000"/>
<rect x="439.7" y="517.2" width="44.8" height="25.5" fill="#800000"/>
<rect x="439.7" y="646.5" width="44.8" height="27.2" fill="#800000"/>
<rect x="411.0" y="561.9" width="28.7" height="12.8" fill="#800000"/>
<rect x="411.0" y="581.0" width="28.7" height="11.2" fill="#800000"/>
<rect x="411.0" y="598.6" width="28.7" height="12.8" fill="#800000"/>
<rect x="411.0" y="617.8" width="28.7" height="12.8" fill="#800000"/>
<rect x="307.2" y="536.3" width="52.7" height="40.0" fill="#800000"/>
<rect x="307.2" y="624.2" width="52.7" height="39.9" fill="#800000"/>
<rect x="451.0" y="681.7" width="54.2" height="23.9" fill="#800000"/>
<rect x="81.7" y="590.8" width="36.6" height="49.2" fill="#800000"/>
<rect x="50.0" y="584.0" width="20.0" height="7.0" fill="#800000"/>
<rect x="50.0" y="602.0" width="20.0" height="7.5" fill="#800000"/>
<rect x="50.0" y="621.0" width="20.0" height="7.5" fill="#800000"/>
<rect x="50.0" y="639.5" width="20.0" height="7.5" fill="#800000"/>
<rect x="130.0" y="584.0" width="20.0" height="7.0" fill="#800000"/>
<rect x="130.0" y="602.0" width="20.0" height="7.5" fill="#800000"/>
<rect x="130.0" y="621.0" width="20.0" height="7.5" fill="#800000"/>
<rect x="130.0" y="639.5" width="20.0" height="7.5" fill="#800000"/>
<rect x="-14.0" y="568.0" width="25.0" height="15.0" fill="#800000"/>
<rect x="20.0" y="568.0" width="15.0" height="15.0" fill="#800000"/>
<rect x="-14.0" y="610.0" width="25.0" height="15.0" fill="#800000"/>
<rect x="20.0" y="610.0" width="15.0" height="15.0" fill="#800000"/>
<rect x="106.0" y="689.0" width="16.0" height="17.0" fill="#800000"/>
<rect x="128.0" y="689.0" width="16.0" height="17.0" fill="#800000"/>
<rect x="245.6" y="703.3" width="13.3" height="21.7" fill="#800000"/>
<rect x="272.2" y="703.3" width="13.4" height="21.7" fill="#800000"/>
<rect x="236.5" y="562.0" width="18.5" height="13.5" fill="#800000"/>
<rect x="236.5" y="584.5" width="18.5" height="13.5" fill="#800000"/>
<rect x="31.0" y="707.0" width="16.0" height="18.0" fill="#800000"/>
<rect x="55.0" y="707.0" width="15.0" height="18.0" fill="#800000"/>
<rect x="-14.0" y="709.0" width="23.0" height="16.0" fill="#800000"/>
<rect x="-2" y="411.2" width="10" height="21.6" fill="#000070"/>
<rect x="-2" y="458.2" width="10" height="21.6" fill="#000070"/>
<path d="M339 417.5L352 402.5H400V433H352Z" fill="#000070"/>
<path d="M342 417.5L354 404.7H397.7V430.7H354Z" fill="#800000"/>
<path d="M-5.0 506.0 L50.0 556.0 L72.0 556.0" fill="none" stroke="#800000" stroke-width="7" stroke-linejoin="round"/>
<path d="M-5.0 520.0 L40.0 560.0 L40.0 575.0" fill="none" stroke="#800000" stroke-width="6" stroke-linejoin="round"/>
<path d="M77.0 456.0 L77.0 525.0" fill="none" stroke="#800000" stroke-width="8.5" stroke-linejoin="round"/>
<path d="M89.0 490.0 L110.0 490.0" fill="none" stroke="#800000" stroke-width="9" stroke-linejoin="round"/>
<path d="M143.0 490.0 L240.0 490.0" fill="none" stroke="#800000" stroke-width="10" stroke-linejoin="round"/>
<path d="M89.0 532.0 L116.0 532.0 L158.0 574.0 L200.0 574.0 L226.0 552.0 L226.0 535.0" fill="none" stroke="#800000" stroke-width="8" stroke-linejoin="round"/>
<path d="M-5.0 548.0 L20.0 548.0 L28.0 556.0" fill="none" stroke="#800000" stroke-width="6" stroke-linejoin="round"/>
<path d="M168.0 609.0 L180.0 602.0 L217.0 602.0 L223.0 608.0 L223.0 684.0 L216.0 692.0 L178.0 692.0 L160.0 710.0 L160.0 725.0" fill="none" stroke="#800000" stroke-width="9" stroke-linejoin="round"/>
<path d="M100.0 652.0 L130.0 668.0 L230.0 668.0 L250.0 650.0 L250.0 560.0" fill="none" stroke="#800000" stroke-width="7" stroke-linejoin="round"/>
<path d="M247.0 466.0 L247.0 518.0 L256.0 524.0 L325.0 524.0 L336.0 536.0" fill="none" stroke="#800000" stroke-width="8" stroke-linejoin="round"/>
<path d="M270.0 489.0 L280.0 489.0 L286.0 480.0 L309.0 480.0" fill="none" stroke="#800000" stroke-width="7" stroke-linejoin="round"/>
<path d="M270.0 503.0 L309.0 503.0" fill="none" stroke="#800000" stroke-width="6" stroke-linejoin="round"/>
<path d="M318.0 440.0 L318.0 500.0" fill="none" stroke="#800000" stroke-width="8" stroke-linejoin="round"/>
<path d="M252.0 410.0 L258.0 418.0 L280.0 410.0 L309.0 397.0" fill="none" stroke="#800000" stroke-width="8" stroke-linejoin="round"/>
<path d="M284.0 555.0 L284.0 598.0 L330.0 598.0 L334.0 620.0" fill="none" stroke="#800000" stroke-width="9" stroke-linejoin="round"/>
<path d="M395.0 453.0 L412.0 453.0 L420.0 462.0 L420.0 540.0 L432.0 552.0 L432.0 565.0" fill="none" stroke="#800000" stroke-width="9" stroke-linejoin="round"/>
<path d="M434.0 568.0 L446.0 568.0 L453.0 575.0 L453.0 617.0 L446.0 624.0 L434.0 624.0" fill="none" stroke="#800000" stroke-width="14" stroke-linejoin="round"/>
<path d="M130.0 587.0 L175.0 587.0 L190.0 600.0" fill="none" stroke="#800000" stroke-width="6" stroke-linejoin="round"/>
<path d="M130.0 606.0 L160.0 606.0" fill="none" stroke="#800000" stroke-width="6" stroke-linejoin="round"/>
<path d="M130.0 625.0 L155.0 625.0" fill="none" stroke="#800000" stroke-width="6" stroke-linejoin="round"/>
<path d="M130.0 643.0 L175.0 643.0 L200.0 620.0" fill="none" stroke="#800000" stroke-width="6" stroke-linejoin="round"/>
<path d="M41.0 606.0 L70.0 606.0" fill="none" stroke="#800000" stroke-width="8" stroke-linejoin="round"/>
<path d="M41.0 625.0 L70.0 625.0" fill="none" stroke="#800000" stroke-width="8" stroke-linejoin="round"/>
<path d="M41.0 725.0 L41.0 668.0 L58.0 650.0 L70.0 644.0" fill="none" stroke="#800000" stroke-width="8" stroke-linejoin="round"/>
<path d="M-5.0 517.0 L50.0 566.0 L62.0 574.0" fill="none" stroke="#800000" stroke-width="14" stroke-linejoin="round"/>
<path d="M60.0 558.0 L140.0 558.0" fill="none" stroke="#800000" stroke-width="8" stroke-linejoin="round"/>
<path d="M62.0 571.0 L150.0 571.0" fill="none" stroke="#800000" stroke-width="9" stroke-linejoin="round"/>
<path d="M70.0 648.0 L88.0 664.0 L185.0 664.0" fill="none" stroke="#800000" stroke-width="9" stroke-linejoin="round"/>
<path d="M101.0 692.0 L85.0 702.0 L78.0 725.0" fill="none" stroke="#800000" stroke-width="8" stroke-linejoin="round"/>
<path d="M148.0 697.0 L165.0 697.0 L182.0 680.0" fill="none" stroke="#800000" stroke-width="8" stroke-linejoin="round"/>
<path d="M172.0 505.0 L205.0 505.0" fill="none" stroke="#800000" stroke-width="6" stroke-linejoin="round"/>
<circle cx="112.2" cy="511.7" r="4.2" fill="#7A7A7A"/>
<circle cx="112.2" cy="511.7" r="1.9" fill="#111"/>
<circle cx="147.4" cy="511.7" r="4.2" fill="#7A7A7A"/>
<circle cx="147.4" cy="511.7" r="1.9" fill="#111"/>
<circle cx="147.4" cy="527.9" r="4.2" fill="#7A7A7A"/>
<circle cx="147.4" cy="527.9" r="1.9" fill="#111"/>
<circle cx="201.2" cy="503.5" r="4.2" fill="#7A7A7A"/>
<circle cx="201.2" cy="503.5" r="1.9" fill="#111"/>
<circle cx="225.4" cy="554" r="4.2" fill="#7A7A7A"/>
<circle cx="225.4" cy="554" r="1.9" fill="#111"/>
<circle cx="164.5" cy="600.1" r="4.2" fill="#7A7A7A"/>
<circle cx="164.5" cy="600.1" r="1.9" fill="#111"/>
<circle cx="41.8" cy="605.5" r="4.2" fill="#7A7A7A"/>
<circle cx="41.8" cy="605.5" r="1.9" fill="#111"/>
<circle cx="41.8" cy="625" r="4.2" fill="#7A7A7A"/>
<circle cx="41.8" cy="625" r="1.9" fill="#111"/>
<circle cx="40.8" cy="682.7" r="4.2" fill="#7A7A7A"/>
<circle cx="40.8" cy="682.7" r="1.9" fill="#111"/>
<circle cx="186.4" cy="429.8" r="16.8" fill="none" stroke="#7A0A0A" stroke-width="1.2"/>
<circle cx="186.4" cy="429.8" r="13.600000000000001" fill="#050005"/>
<circle cx="186.4" cy="429.8" r="10.8" fill="#7A7A7A" stroke="#5A1A6A" stroke-width="0.6"/>
<circle cx="186.4" cy="429.8" r="6.3" fill="#111"/>
<text x="185.4" y="426.8" font-family="Liberation Sans" font-size="9" fill="#E8E8E8" text-anchor="middle">2</text>
<circle cx="186.4" cy="467.2" r="16.8" fill="none" stroke="#7A0A0A" stroke-width="1.2"/>
<circle cx="186.4" cy="467.2" r="13.600000000000001" fill="#050005"/>
<circle cx="186.4" cy="467.2" r="10.8" fill="#7A7A7A" stroke="#5A1A6A" stroke-width="0.6"/>
<circle cx="186.4" cy="467.2" r="6.3" fill="#111"/>
<text x="185.4" y="464.2" font-family="Liberation Sans" font-size="9" fill="#E8E8E8" text-anchor="middle">1</text>
<path d="M177.6 480.0A32.6 32.6 0 0 1 177.6 417.0M194.4 417.0A32.6 32.6 0 0 1 194.4 480.0M172.8 467.3A23 23 0 0 1 172.8 429.7M199.2 429.7A23 23 0 0 1 199.2 467.3" fill="none" stroke="#FFCC00" stroke-width="3.2" stroke-linecap="round" stroke-linejoin="round"/>
<circle cx="186.4" cy="527.3" r="16.8" fill="none" stroke="#7A0A0A" stroke-width="1.2"/>
<circle cx="186.4" cy="527.3" r="13.600000000000001" fill="#050005"/>
<circle cx="186.4" cy="527.3" r="10.8" fill="#7A7A7A" stroke="#5A1A6A" stroke-width="0.6"/>
<circle cx="186.4" cy="527.3" r="6.3" fill="#111"/>
<text x="185.4" y="524.3" font-family="Liberation Sans" font-size="9" fill="#E8E8E8" text-anchor="middle">2</text>
<circle cx="186.4" cy="564.7" r="16.8" fill="none" stroke="#7A0A0A" stroke-width="1.2"/>
<circle cx="186.4" cy="564.7" r="13.600000000000001" fill="#050005"/>
<circle cx="186.4" cy="564.7" r="10.8" fill="#7A7A7A" stroke="#5A1A6A" stroke-width="0.6"/>
<circle cx="186.4" cy="564.7" r="6.3" fill="#111"/>
<text x="185.4" y="561.7" font-family="Liberation Sans" font-size="9" fill="#E8E8E8" text-anchor="middle">1</text>
<path d="M177.6 577.5A32.6 32.6 0 0 1 177.6 514.5M194.4 514.5A32.6 32.6 0 0 1 194.4 577.5M172.8 564.8A23 23 0 0 1 172.8 527.2M199.2 527.2A23 23 0 0 1 199.2 564.8" fill="none" stroke="#FFCC00" stroke-width="3.2" stroke-linecap="round" stroke-linejoin="round"/>
<circle cx="186.4" cy="623.8" r="16.8" fill="none" stroke="#7A0A0A" stroke-width="1.2"/>
<circle cx="186.4" cy="623.8" r="13.600000000000001" fill="#050005"/>
<circle cx="186.4" cy="623.8" r="10.8" fill="#7A7A7A" stroke="#5A1A6A" stroke-width="0.6"/>
<circle cx="186.4" cy="623.8" r="6.3" fill="#111"/>
<text x="185.4" y="620.8" font-family="Liberation Sans" font-size="9" fill="#E8E8E8" text-anchor="middle">2</text>
<circle cx="186.4" cy="661.2" r="16.8" fill="none" stroke="#7A0A0A" stroke-width="1.2"/>
<circle cx="186.4" cy="661.2" r="13.600000000000001" fill="#050005"/>
<circle cx="186.4" cy="661.2" r="10.8" fill="#7A7A7A" stroke="#5A1A6A" stroke-width="0.6"/>
<circle cx="186.4" cy="661.2" r="6.3" fill="#111"/>
<text x="185.4" y="658.2" font-family="Liberation Sans" font-size="9" fill="#E8E8E8" text-anchor="middle">1</text>
<path d="M177.6 674.0A32.6 32.6 0 0 1 177.6 611.0M194.4 611.0A32.6 32.6 0 0 1 194.4 674.0M172.8 661.3A23 23 0 0 1 172.8 623.7M199.2 623.7A23 23 0 0 1 199.2 661.3" fill="none" stroke="#FFCC00" stroke-width="3.2" stroke-linecap="round" stroke-linejoin="round"/>
<circle cx="186.4" cy="720.3" r="16.8" fill="none" stroke="#7A0A0A" stroke-width="1.2"/>
<circle cx="186.4" cy="720.3" r="13.600000000000001" fill="#050005"/>
<circle cx="186.4" cy="720.3" r="10.8" fill="#7A7A7A" stroke="#5A1A6A" stroke-width="0.6"/>
<circle cx="186.4" cy="720.3" r="6.3" fill="#111"/>
<text x="185.4" y="717.3" font-family="Liberation Sans" font-size="9" fill="#E8E8E8" text-anchor="middle">2</text>
<circle cx="186.4" cy="757.7" r="16.8" fill="none" stroke="#7A0A0A" stroke-width="1.2"/>
<circle cx="186.4" cy="757.7" r="13.600000000000001" fill="#050005"/>
<circle cx="186.4" cy="757.7" r="10.8" fill="#7A7A7A" stroke="#5A1A6A" stroke-width="0.6"/>
<circle cx="186.4" cy="757.7" r="6.3" fill="#111"/>
<text x="185.4" y="754.7" font-family="Liberation Sans" font-size="9" fill="#E8E8E8" text-anchor="middle">1</text>
<path d="M177.6 770.5A32.6 32.6 0 0 1 177.6 707.5M194.4 707.5A32.6 32.6 0 0 1 194.4 770.5M172.8 757.8A23 23 0 0 1 172.8 720.2M199.2 720.2A23 23 0 0 1 199.2 757.8" fill="none" stroke="#FFCC00" stroke-width="3.2" stroke-linecap="round" stroke-linejoin="round"/>
<path d="M7.5 409.8H22Q26.7 409.8 26.7 414.3V429.5Q26.7 434 22 434H7.5" fill="none" stroke="#FFCC00" stroke-width="3.4" stroke-linecap="round" stroke-linejoin="round"/>
<path d="M7.5 456H22Q26.7 456 26.7 460.5V476.5Q26.7 481 22 481H7.5" fill="none" stroke="#FFCC00" stroke-width="3.4" stroke-linecap="round" stroke-linejoin="round"/>
<path d="M-2 409.8H3.5M-2 434H3.5M-2 456H3.5M-2 481H3.5" fill="none" stroke="#FFCC00" stroke-width="3.4" stroke-linecap="round" stroke-linejoin="round"/>
<path d="M62.7 436H50Q46 436 46 440V455Q46 459 50 459H62.7M71.2 436H85Q89 436 89 440V455Q89 459 85 459H71.2" fill="none" stroke="#FFCC00" stroke-width="3.4" stroke-linecap="round" stroke-linejoin="round"/>
<path d="M62.7 479H50Q46 479 46 483V497Q46 501 50 501H62.7M71.2 479H85Q89 479 89 483V497Q89 501 85 501H71.2" fill="none" stroke="#FFCC00" stroke-width="3.4" stroke-linecap="round" stroke-linejoin="round"/>
<path d="M62.7 521H50Q46 521 46 525V539Q46 543 50 543H62.7M71.2 521H85Q89 521 89 525V539Q89 543 85 543H71.2" fill="none" stroke="#FFCC00" stroke-width="3.4" stroke-linecap="round" stroke-linejoin="round"/>
<path d="M232.6 481.4H259.9M232.6 526.6H259.9" fill="none" stroke="#FFCC00" stroke-width="3.4" stroke-linecap="round" stroke-linejoin="round"/>
<path d="M309 387V372Q309 368 313 368H323Q327 368 327 372V387M309 391V406.8Q309 410.8 313 410.8H323Q327 410.8 327 406.8V391" fill="none" stroke="#FFCC00" stroke-width="3.4" stroke-linecap="round" stroke-linejoin="round"/>
<path d="M387 439.8V361.9H446.7M500.8 387.9V484.2M387 467.4V508.7H447.7" fill="none" stroke="#FFCC00" stroke-width="3.4" stroke-linecap="round" stroke-linejoin="round"/>
<path d="M488 523.5H494.5V546H497.5V645H494.5V667.3H488M442 546H431.8V558.7M431.8 630.6V645H442" fill="none" stroke="#FFCC00" stroke-width="3.4" stroke-linecap="round" stroke-linejoin="round"/>
<path d="M304.4 549H284.8V651.8H304.4M363.7 549H382.7V651.8H363.7" fill="none" stroke="#FFCC00" stroke-width="3.4" stroke-linecap="round" stroke-linejoin="round"/>
<path d="M447.7 681.7H385.4V725M500.4 707V725" fill="none" stroke="#FFCC00" stroke-width="3.4" stroke-linecap="round" stroke-linejoin="round"/>
<path d="M68.3 579.2H89A11 11 0 0 0 111 579.2H130.8M68.3 652.5H130.8" fill="none" stroke="#FFCC00" stroke-width="3.4" stroke-linecap="round" stroke-linejoin="round"/>
<path d="M120.5 685.2H107Q102.7 685.2 102.7 689.5V705Q102.7 709.3 107 709.3H120.5M129.5 685.2H143Q147.3 685.2 147.3 689.5V705Q147.3 709.3 143 709.3H129.5" fill="none" stroke="#FFCC00" stroke-width="3.4" stroke-linecap="round" stroke-linejoin="round"/>
<path d="M235 577V562Q235 558.3 239 558.3H253Q257 558.3 257 562V577M235 582V597Q235 600.8 239 600.8H253Q257 600.8 257 597V582" fill="none" stroke="#FFCC00" stroke-width="3.4" stroke-linecap="round" stroke-linejoin="round"/>
<path d="M238 385H232.5V450.8H238M266 385H271.3V450.8H266M232.5 403.3H271.3" fill="none" stroke="#FFCC00" stroke-width="2.3" stroke-linecap="round" stroke-linejoin="round"/>
<path d="M245.5 425H259L252.2 410.5Z M245 410.5H259.5 M252.2 404V431" fill="none" stroke="#FFCC00" stroke-width="2.3" stroke-linecap="round" stroke-linejoin="round"/>
<path d="M124.5 480.5H109.5V500H124.5M135.5 480.5H151V500H135.5" fill="none" stroke="#FFCC00" stroke-width="2.3" stroke-linecap="round" stroke-linejoin="round"/>
<path d="M307.5 421.8H327.5V440M307.5 421.8V440M307.5 446.8H327.5V463.3H307.5Z" fill="none" stroke="#FFCC00" stroke-width="2.3" stroke-linecap="round" stroke-linejoin="round"/>
<path d="M307.5 473.3H327.5V489.6H307.5ZM307.5 499.3H327.5V514.9M307.5 499.3V514.9" fill="none" stroke="#FFCC00" stroke-width="2.3" stroke-linecap="round" stroke-linejoin="round"/>
<path d="M0 564.5H11M0 585.8H11M20 564.5H36.7V585.8H20" fill="none" stroke="#FFCC00" stroke-width="2.3" stroke-linecap="round" stroke-linejoin="round"/>
<path d="M0 607.5H11M0 627.5H11M20 607.5H36.7V627.5H20" fill="none" stroke="#FFCC00" stroke-width="2.3" stroke-linecap="round" stroke-linejoin="round"/>
<path d="M47 703.7H29.7V725M55 703.7H71.8V725" fill="none" stroke="#FFCC00" stroke-width="2.3" stroke-linecap="round" stroke-linejoin="round"/>
<path d="M0 707H11V725" fill="none" stroke="#FFCC00" stroke-width="2.3" stroke-linecap="round" stroke-linejoin="round"/>
<rect x="68.2" y="594.0" width="3" height="7" rx="1.5" fill="#FFCC00"/>
<rect x="128.2" y="594.0" width="3" height="7" rx="1.5" fill="#FFCC00"/>
<rect x="68.2" y="612.3" width="3" height="7" rx="1.5" fill="#FFCC00"/>
<rect x="128.2" y="612.3" width="3" height="7" rx="1.5" fill="#FFCC00"/>
<rect x="68.2" y="630.7" width="3" height="7" rx="1.5" fill="#FFCC00"/>
<rect x="128.2" y="630.7" width="3" height="7" rx="1.5" fill="#FFCC00"/>
<circle cx="370.8" cy="482" r="4.2" fill="#FFCC00"/>
<circle cx="63" cy="571.3" r="4.2" fill="#FFCC00"/>
<circle cx="265.1" cy="528.5" r="4.2" fill="#FFCC00"/>
<path d="M98.8 372.5 L103.8 366.9 L108.8 365.9 L117.5 371.3 L123.8 369.1 L125 375.6 L128.8 376.9 L130 386.3 L128.8 390 L132.5 396.3 L143 398.6 L134.8 407.7 L142.1 406.8 L131.2 419.5 L130.3 423.1 L116.7 423.1 L98.5 432.2" fill="none" stroke="#FFCC00" stroke-width="1.6" stroke-linejoin="round" stroke-linecap="round"/>
<path d="M98.8 372.5 L103.8 366.9 L108.8 365.9 L113 370 L106 376 L104 385Z" fill="#FFCC00"/>
<path d="M117.5 371.3 L123.8 369.1 L125 375.6 L121 380Z" fill="#FFCC00"/>
<path d="M125 375.6 L128.8 376.9 L130 386.3 L126 384Z" fill="#FFCC00"/>
<path d="M128.8 390 L132.5 396.3 L143 398.6 L133 401 L127 395Z" fill="#FFCC00"/>
<path d="M134.8 407.7 L142.1 406.8 L131.2 419.5 L128 414Z" fill="#FFCC00"/>
<path d="M116.7 423.1 L130.3 423.1 L124 418 L119 415Z" fill="#FFCC00"/>
<path d="M104 385 L110 394 L114 408 L110 421 L102 428 L98 424 L104 414 L106 400Z" fill="#FFCC00"/>
<path d="M108 378 L116 388 L120 404 L116 418" fill="none" stroke="#FFCC00" stroke-width="1.3" stroke-linejoin="round" stroke-linecap="round"/>
<path d="M113 374 L122 386 L126 402 L122 414" fill="none" stroke="#FFCC00" stroke-width="1.1" stroke-linejoin="round" stroke-linecap="round"/>
<path d="M49.7 352 L53 364 L57 372 L62 392 L58.6 396.8 L62.2 401.3 L57.7 410.4 L66.8 418.6 L67.7 424.9 L74.9 428.6 L89.4 433.1 L98.5 429.5 L93.1 421.3 L100.3 419.5 L89.4 417.7 L98.5 412.2 L91.3 410.4 L100.3 405 L94 391.4 L98.5 385 L104 385 L99 372 L92 362 L85 357.5 L77.8 358.4Z" fill="#FFCC00"/>
<path d="M52.5 355 L78 361 L90 366 L96 376 L97 385 L88 384 L76 391 L66 384 L57.5 369Z" fill="#5A0019"/>
<path d="M58 359 L68 362 L80 370 L86 380 L80 382 L70 374 L62 366Z" fill="#FFCC00"/>
<path d="M54 356.5 L72 362.5 L88 370" fill="none" stroke="#FFCC00" stroke-width="1.2" stroke-linejoin="round" stroke-linecap="round"/>
<path d="M89 398 L93 401.5 L96 399.5 L91 396Z" fill="#5A0019"/>
<path d="M42.3 411.3 L56.8 405 L56.8 419.5Z" fill="#FFCC00"/>
<path d="M62.2 400.4 L37.7 411.3 L66.8 424.9" fill="none" stroke="#FFCC00" stroke-width="1.2" stroke-linejoin="round" stroke-linecap="round"/>
<text x="22.5" y="454.3" font-family="Liberation Sans" font-weight="bold" font-size="15.5" fill="#FFCC00" letter-spacing="0" text-anchor="start">C5</text>
<text x="-6.5" y="450" font-family="Liberation Sans" font-weight="bold" font-size="15.5" fill="#FFCC00" letter-spacing="0" text-anchor="start">5</text>
<text x="24" y="495" font-family="Liberation Sans" font-weight="bold" font-size="15.5" fill="#FFCC00" letter-spacing="0" text-anchor="start">C6</text>
<text x="24" y="537.6" font-family="Liberation Sans" font-weight="bold" font-size="15.5" fill="#FFCC00" letter-spacing="0" text-anchor="start">C7</text>
<text x="119" y="472" font-family="Liberation Sans" font-weight="bold" font-size="14.5" fill="#FFCC00" letter-spacing="0" text-anchor="start">R9</text>
<text x="73.3" y="571.7" font-family="Liberation Sans" font-weight="bold" font-size="15" fill="#FFCC00" letter-spacing="0" text-anchor="start">U8</text>
<text x="102.7" y="679.6" font-family="Liberation Sans" font-weight="bold" font-size="15" fill="#FFCC00" letter-spacing="0" text-anchor="start">C8</text>
<text x="28.2" y="699.4" font-family="Liberation Sans" font-weight="bold" font-size="14.5" fill="#FFCC00" letter-spacing="0" text-anchor="start">R6</text>
<text x="255" y="698.9" font-family="Liberation Sans" font-weight="bold" font-size="14" fill="#FFCC00" letter-spacing="0" text-anchor="start">U7</text>
<text x="-3" y="556.7" font-family="Liberation Sans" font-weight="bold" font-size="14.5" fill="#FFCC00" letter-spacing="0" text-anchor="start">R4</text>
<text x="-2" y="600.8" font-family="Liberation Sans" font-weight="bold" font-size="14.5" fill="#FFCC00" letter-spacing="0" text-anchor="start">R3</text>
<text transform="translate(165,422.5) rotate(-90)" font-family="Liberation Sans" font-weight="bold" font-size="15" fill="#FFCC00" letter-spacing="0">100</text>
<text transform="translate(165,513) rotate(-90)" font-family="Liberation Sans" font-weight="bold" font-size="15" fill="#FFCC00" letter-spacing="0">75</text>
<text transform="translate(161.5,615) rotate(-90)" font-family="Liberation Sans" font-weight="bold" font-size="15" fill="#FFCC00" letter-spacing="0">50</text>
<text transform="translate(161.5,711) rotate(-90)" font-family="Liberation Sans" font-weight="bold" font-size="15" fill="#FFCC00" letter-spacing="0">25</text>
<text transform="translate(235.8,474.2) rotate(-90)" font-family="Liberation Sans" font-weight="bold" font-size="15" fill="#FFCC00" letter-spacing="0">D5</text>
<text transform="translate(250.8,548.3) rotate(-90)" font-family="Liberation Sans" font-weight="bold" font-size="15" fill="#FFCC00" letter-spacing="0">U3</text>
<text transform="translate(301,403) rotate(-90)" font-family="Liberation Sans" font-weight="bold" font-size="15" fill="#FFCC00" letter-spacing="0">C2</text>
<text transform="translate(301,458) rotate(-90)" font-family="Liberation Sans" font-weight="bold" font-size="15" fill="#FFCC00" letter-spacing="0">R1</text>
<text transform="translate(301,509) rotate(-90)" font-family="Liberation Sans" font-weight="bold" font-size="15" fill="#FFCC00" letter-spacing="0">R2</text>
<text transform="translate(230.3,598.4) rotate(-90)" font-family="Liberation Sans" font-weight="bold" font-size="14" fill="#FFCC00" letter-spacing="0">C1</text>
<text transform="translate(342.3,609.8) rotate(-90)" font-family="Liberation Sans" font-weight="bold" font-size="14" fill="#FFCC00" letter-spacing="0">L3</text>
<text x="393.4" y="530.9" font-family="Liberation Sans" font-weight="normal" font-size="13.5" fill="#FFCC00" letter-spacing="1.2" text-anchor="start">FAN−</text>
<text x="396.6" y="659.3" font-family="Liberation Sans" font-weight="normal" font-size="13.5" fill="#FFCC00" letter-spacing="1.2" text-anchor="start">FAN+</text>
<text x="341" y="714.5" font-family="Liberation Sans" font-weight="normal" font-size="12.5" fill="#FFCC00" letter-spacing="1.2" text-anchor="start">BAT+</text>
<text x="478" y="371" font-family="Liberation Mono" font-size="10" fill="#E8E8E8" text-anchor="middle">4</text>
<text x="478" y="383.5" font-family="Liberation Mono" font-size="10" fill="#E8E8E8" text-anchor="middle">GND</text>
<text x="478" y="495" font-family="Liberation Mono" font-size="10" fill="#E8E8E8" text-anchor="middle">3</text>
<text x="478" y="506.5" font-family="Liberation Mono" font-size="10" fill="#E8E8E8" text-anchor="middle">GND</text>
<text x="462" y="528" font-family="Liberation Mono" font-size="10" fill="#E8E8E8" text-anchor="middle">6</text>
<text x="462" y="540" font-family="Liberation Mono" font-size="10" fill="#E8E8E8" text-anchor="middle">GND</text>
<text x="462" y="657" font-family="Liberation Mono" font-size="10" fill="#E8E8E8" text-anchor="middle">5</text>
<text x="462" y="669" font-family="Liberation Mono" font-size="10" fill="#E8E8E8" text-anchor="middle">GND</text>
<text x="478" y="692" font-family="Liberation Mono" font-size="10" fill="#E8E8E8" text-anchor="middle">4</text>
<text x="478" y="704" font-family="Liberation Mono" font-size="10" fill="#E8E8E8" text-anchor="middle">GND</text>
<text x="333.5" y="555" font-family="Liberation Mono" font-size="14" fill="#E8E8E8" text-anchor="middle">2</text>
<text x="333.5" y="573" font-family="Liberation Mono" font-size="13" fill="#E8E8E8" text-anchor="middle">$1N614</text>
<text x="333.5" y="644" font-family="Liberation Mono" font-size="14" fill="#E8E8E8" text-anchor="middle">1</text>
<text x="333.5" y="662" font-family="Liberation Mono" font-size="13" fill="#E8E8E8" text-anchor="middle">OUT5V</text>
<text x="370" y="418" font-family="Liberation Mono" font-size="9" fill="#E8E8E8" text-anchor="middle">2</text>
<text x="372" y="436" font-family="Liberation Mono" font-size="9" fill="#E8E8E8" text-anchor="middle">SW</text>
<text x="352" y="421" font-family="Liberation Mono" font-size="9" fill="#E8E8E8" text-anchor="middle">SW</text>
<text x="370" y="450" font-family="Liberation Mono" font-size="9" fill="#E8E8E8" text-anchor="middle">1</text>
<text x="362" y="464" font-family="Liberation Mono" font-size="9" fill="#E8E8E8" text-anchor="middle">FAN+</text>
<text x="386" y="458" font-family="Liberation Mono" font-size="9" fill="#E8E8E8" text-anchor="middle">FAN+</text>
<text x="425" y="591" font-family="Liberation Mono" font-size="9" fill="#E8E8E8" text-anchor="middle">3</text>
<text x="425" y="609" font-family="Liberation Mono" font-size="9" fill="#E8E8E8" text-anchor="middle">2</text>
<text x="456" y="587" font-family="Liberation Mono" font-size="9" fill="#E8E8E8" text-anchor="middle" transform="rotate(90 456 587)">FAN1</text>
<text x="251" y="386" font-family="Liberation Mono" font-size="8" fill="#E8E8E8" text-anchor="middle" transform="rotate(90 251 386)">2 SW</text>
<text x="251" y="448" font-family="Liberation Mono" font-size="8" fill="#E8E8E8" text-anchor="middle" transform="rotate(90 251 448)">1</text>
<text x="280" y="406" font-family="Liberation Mono" font-size="8" fill="#E8E8E8" text-anchor="middle" transform="rotate(-30 280 406)">SW</text>
<text transform="translate(88,615) rotate(90)" font-family="Liberation Mono" font-size="12" fill="#F0F0F0" text-anchor="middle">GND</text>
<text transform="translate(105,615) rotate(90)" font-family="Liberation Mono" font-size="12" fill="#F0F0F0" text-anchor="middle">9</text>
<text x="-1" y="718.5" font-family="Liberation Mono" font-size="9.5" fill="#D8D8D8">4513</text>
<path d="M-10 348H488A25 25 0 0 1 513 373V730" fill="none" stroke="#800080" stroke-width="3.8"/>
<path d="M-10 350.9H488A22 22 0 0 1 510 373V730" fill="none" stroke="#000" stroke-width="2"/>
</svg>
<!-- PANEL -->
<div class="a" style="left:918px;top:94px;width:294px;height:626px;background:#fff;border-top:1px solid #D6D6D6"></div>
<div class="a" style="left:918px;top:95px;width:7px;height:625px;background:#E3E3E3;border-left:2px solid #fff"></div>
<div class="a" style="left:921px;top:95px;width:1px;height:625px;background:repeating-linear-gradient(#888 0 1px,#fff 1px 2px,transparent 2px 4px)"></div>
<div class="a" style="left:935px;top:103px;width:135px;height:22px;border:1px solid #DCDCDC;border-radius:2px;background:#fff"></div>
<div class="t" style="left:940px;top:108px;font-size:12.2px;color:#333">常用(默认)</div>
<svg class="a" style="left:1053px;top:110px" width="9" height="7"><path d="M1 1.5L4.5 5 8 1.5" fill="none" stroke="#555" stroke-width="1.2"/></svg>
<div class="a" style="left:1075px;top:103px;width:46px;height:22px;border:1px solid #DCDCDC;border-radius:2px;background:#fff"></div>
<div class="t" style="left:1086px;top:108px;font-size:12.5px;color:#1E88FF">重置</div>
<svg class="a" style="left:1157px;top:104px" width="22" height="20" viewBox="0 0 22 20"><g fill="none" stroke="#222" stroke-width="1.2"><path d="M3 6L9 3H17L11 6Z"/><path d="M3 6V8.5C5 9.5 9 9.5 11 8.5V6"/><path d="M3 8.5V11C5 12 9 12 11 11"/><path d="M3 11V13.5C5 14.5 9 14.5 11 13.5"/><path d="M3 13.5V16C5 17 9 17 11 16"/><path d="M17 3V8"/></g><circle cx="15.5" cy="14" r="3.6" fill="#fff" stroke="#222" stroke-width="1.3"/><circle cx="15.5" cy="14" r="1.2" fill="#222"/></svg>
<div class="t" style="left:942px;top:133px;font-size:12.5px;color:#1E88FF">所有层</div>
<div class="a" style="left:990px;top:131px;width:1px;height:15px;background:#D8D8D8"></div>
<div class="t" style="left:1003px;top:133px;font-size:12.5px;color:#333">铜箔层</div>
<div class="a" style="left:1051px;top:131px;width:1px;height:15px;background:#D8D8D8"></div>
<div class="t" style="left:1064px;top:133px;font-size:12.5px;color:#333">非铜层</div>
<!-- right strip -->
<div class="a" style="left:1183px;top:94px;width:29px;height:626px;background:#EFEFEF;border-left:1px solid #D6D6D6"></div>
<div class="a" style="left:1183px;top:94px;width:29px;height:33px;background:#EFEFEF;border:1px solid #D6D6D6"></div>
<svg class="a" style="left:1192px;top:102px" width="10" height="14" viewBox="0 0 10 14"><path d="M3 1H7V2L6.4 2.6V6L8 7.6V8.4H2V7.6L3.6 6V2.6L3 2Z" fill="#222"/><rect x="4.6" y="8.4" width="0.9" height="4" fill="#222"/></svg>
<div class="a" style="left:1183px;top:127px;width:24px;height:72px;background:#fff;border-right:1px solid #D6D6D6"></div>
<div class="a" style="left:1183px;top:199px;width:24px;height:72px;background:#EFEFEF;border:1px solid #D6D6D6;border-left:none"></div>
<div class="a" style="left:1183px;top:271px;width:24px;height:71px;background:#EFEFEF;border:1px solid #D6D6D6;border-left:none;border-top:none"></div>
<div class="t" style="left:1189px;top:151px;font-size:12.5px;color:#1E88FF;width:13px;white-space:normal;line-height:12px">图层</div>
<div class="t" style="left:1189px;top:225px;font-size:12.5px;color:#333;width:13px;white-space:normal;line-height:12px">过滤</div>
<div class="t" style="left:1189px;top:296px;font-size:12.5px;color:#333;width:13px;white-space:normal;line-height:12px">属性</div>
<div class="a" style="left:920px;top:524px;width:5px;height:51px;background:#EFEFEF;border:1.3px solid #6A6262;border-right:none"></div>
<svg class="a" style="left:920px;top:545px" width="5" height="8"><path d="M0.5 0.5L4.5 4 0.5 7.5Z" fill="#6A6262"/></svg>

<svg class="a" style="left:925px;top:151px" width="258" height="569" viewBox="925 151 258 569">
<path d="M950 163Q958 153.4 966 163Q958 172.6 950 163Z" fill="none" stroke="#C4C4C4" stroke-width="1.3"/><circle cx="958" cy="163" r="3.2" fill="none" stroke="#C4C4C4" stroke-width="1.3"/><path d="M952 169L964 157" stroke="#C4C4C4" stroke-width="1.3"/>
<path d="M1151.6 162V161.5A3.8 3.8 0 0 1 1159.2 161.5V164.5" fill="none" stroke="#8A8A8A" stroke-width="1.3"/>
<rect x="1154.3" y="164.6" width="12" height="7.8" fill="#fff" stroke="#8A8A8A" stroke-width="1.3"/>
<circle cx="1160.3" cy="167.6" r="1.1" fill="#8A8A8A"/><rect x="1159.8" y="167.6" width="1" height="2.6" fill="#8A8A8A"/>
<path d="M929.6 190H938V182Z" fill="#D2D2D2"/>
<path d="M950 187Q958 177.4 966 187Q958 196.6 950 187Z" fill="none" stroke="#111" stroke-width="1.4"/><circle cx="958" cy="187" r="3.3" fill="none" stroke="#111" stroke-width="1.5"/>
<path d="M1151.6 186V185.5A3.8 3.8 0 0 1 1159.2 185.5V188.5" fill="none" stroke="#8A8A8A" stroke-width="1.3"/>
<rect x="1154.3" y="188.6" width="12" height="7.8" fill="#fff" stroke="#8A8A8A" stroke-width="1.3"/>
<circle cx="1160.3" cy="191.6" r="1.1" fill="#8A8A8A"/><rect x="1159.8" y="191.6" width="1" height="2.6" fill="#8A8A8A"/>
<rect x="925" y="199" width="35" height="24" fill="#FF0000"/>
<path d="M968 211Q976 201.4 984 211Q976 220.6 968 211Z" fill="none" stroke="#111" stroke-width="1.4"/><circle cx="976" cy="211" r="3.3" fill="none" stroke="#111" stroke-width="1.5"/>
<path d="M1151.6 210V209.5A3.8 3.8 0 0 1 1159.2 209.5V212.5" fill="none" stroke="#8A8A8A" stroke-width="1.3"/>
<rect x="1154.3" y="212.6" width="12" height="7.8" fill="#fff" stroke="#8A8A8A" stroke-width="1.3"/>
<circle cx="1160.3" cy="215.6" r="1.1" fill="#8A8A8A"/><rect x="1159.8" y="215.6" width="1" height="2.6" fill="#8A8A8A"/>
<rect x="960" y="223" width="223" height="24" fill="#FAEBDC"/>
<rect x="925" y="223" width="35" height="24" fill="#FFCC00"/>
<g transform="translate(943,235) rotate(-45)"><rect x="-5" y="-2.6" width="10" height="5.2" fill="#F5A020"/><rect x="-5" y="-2.6" width="10" height="1.7" fill="#FFD84A"/><rect x="5" y="-2.6" width="3.2" height="5.2" fill="#333"/><rect x="8.2" y="-2.6" width="3.4" height="5.2" fill="#E88A8A"/><path d="M-5 -2.6L-10.5 0 -5 2.6Z" fill="#FFF3D0"/><path d="M-8.6 -0.9L-10.5 0 -8.6 0.9Z" fill="#333"/></g>
<path d="M968 235Q976 225.4 984 235Q976 244.6 968 235Z" fill="none" stroke="#111" stroke-width="1.4"/><circle cx="976" cy="235" r="3.3" fill="none" stroke="#111" stroke-width="1.5"/>
<path d="M1151.6 234V233.5A3.8 3.8 0 0 1 1159.2 233.5V236.5" fill="none" stroke="#8A8A8A" stroke-width="1.3"/>
<rect x="1154.3" y="236.6" width="12" height="7.8" fill="#fff" stroke="#8A8A8A" stroke-width="1.3"/>
<circle cx="1160.3" cy="239.6" r="1.1" fill="#8A8A8A"/><rect x="1159.8" y="239.6" width="1" height="2.6" fill="#8A8A8A"/>
<rect x="925" y="247" width="35" height="24" fill="#800080"/>
<path d="M968 259Q976 249.4 984 259Q976 268.6 968 259Z" fill="none" stroke="#111" stroke-width="1.4"/><circle cx="976" cy="259" r="3.3" fill="none" stroke="#111" stroke-width="1.5"/>
<path d="M1151.6 258V257.5A3.8 3.8 0 0 1 1159.2 257.5V260.5" fill="none" stroke="#8A8A8A" stroke-width="1.3"/>
<rect x="1154.3" y="260.6" width="12" height="7.8" fill="#fff" stroke="#8A8A8A" stroke-width="1.3"/>
<circle cx="1160.3" cy="263.6" r="1.1" fill="#8A8A8A"/><rect x="1159.8" y="263.6" width="1" height="2.6" fill="#8A8A8A"/>
<rect x="925" y="271" width="35" height="24" fill="#808080"/>
<path d="M968 283Q976 273.4 984 283Q976 292.6 968 283Z" fill="none" stroke="#111" stroke-width="1.4"/><circle cx="976" cy="283" r="3.3" fill="none" stroke="#111" stroke-width="1.5"/>
<path d="M1151.6 282V281.5A3.8 3.8 0 0 1 1159.2 281.5V284.5" fill="none" stroke="#8A8A8A" stroke-width="1.3"/>
<rect x="1154.3" y="284.6" width="12" height="7.8" fill="#fff" stroke="#8A8A8A" stroke-width="1.3"/>
<circle cx="1160.3" cy="287.6" r="1.1" fill="#8A8A8A"/><rect x="1159.8" y="287.6" width="1" height="2.6" fill="#8A8A8A"/>
<rect x="925" y="295" width="35" height="24" fill="#33CC99"/>
<path d="M968 307Q976 297.4 984 307Q976 316.6 968 307Z" fill="none" stroke="#111" stroke-width="1.4"/><circle cx="976" cy="307" r="3.3" fill="none" stroke="#111" stroke-width="1.5"/>
<path d="M1151.6 306V305.5A3.8 3.8 0 0 1 1159.2 305.5V308.5" fill="none" stroke="#8A8A8A" stroke-width="1.3"/>
<rect x="1154.3" y="308.6" width="12" height="7.8" fill="#fff" stroke="#8A8A8A" stroke-width="1.3"/>
<circle cx="1160.3" cy="311.6" r="1.1" fill="#8A8A8A"/><rect x="1159.8" y="311.6" width="1" height="2.6" fill="#8A8A8A"/>
<path d="M929.6 334H938V326Z" fill="#D2D2D2"/>
<path d="M950 331Q958 321.4 966 331Q958 340.6 950 331Z" fill="none" stroke="#111" stroke-width="1.4"/><circle cx="958" cy="331" r="3.3" fill="none" stroke="#111" stroke-width="1.5"/>
<path d="M1151.6 330V329.5A3.8 3.8 0 0 1 1159.2 329.5V332.5" fill="none" stroke="#8A8A8A" stroke-width="1.3"/>
<rect x="1154.3" y="332.6" width="12" height="7.8" fill="#fff" stroke="#8A8A8A" stroke-width="1.3"/>
<circle cx="1160.3" cy="335.6" r="1.1" fill="#8A8A8A"/><rect x="1159.8" y="335.6" width="1" height="2.6" fill="#8A8A8A"/>
<rect x="925" y="343" width="35" height="24" fill="#0000FF"/>
<path d="M968 355Q976 345.4 984 355Q976 364.6 968 355Z" fill="none" stroke="#111" stroke-width="1.4"/><circle cx="976" cy="355" r="3.3" fill="none" stroke="#111" stroke-width="1.5"/>
<path d="M1151.6 354V353.5A3.8 3.8 0 0 1 1159.2 353.5V356.5" fill="none" stroke="#8A8A8A" stroke-width="1.3"/>
<rect x="1154.3" y="356.6" width="12" height="7.8" fill="#fff" stroke="#8A8A8A" stroke-width="1.3"/>
<circle cx="1160.3" cy="359.6" r="1.1" fill="#8A8A8A"/><rect x="1159.8" y="359.6" width="1" height="2.6" fill="#8A8A8A"/>
<rect x="925" y="367" width="35" height="24" fill="#66CC33"/>
<path d="M968 379Q976 369.4 984 379Q976 388.6 968 379Z" fill="none" stroke="#111" stroke-width="1.4"/><circle cx="976" cy="379" r="3.3" fill="none" stroke="#111" stroke-width="1.5"/>
<path d="M1151.6 378V377.5A3.8 3.8 0 0 1 1159.2 377.5V380.5" fill="none" stroke="#8A8A8A" stroke-width="1.3"/>
<rect x="1154.3" y="380.6" width="12" height="7.8" fill="#fff" stroke="#8A8A8A" stroke-width="1.3"/>
<circle cx="1160.3" cy="383.6" r="1.1" fill="#8A8A8A"/><rect x="1159.8" y="383.6" width="1" height="2.6" fill="#8A8A8A"/>
<rect x="925" y="391" width="35" height="24" fill="#AA00FF"/>
<path d="M968 403Q976 393.4 984 403Q976 412.6 968 403Z" fill="none" stroke="#111" stroke-width="1.4"/><circle cx="976" cy="403" r="3.3" fill="none" stroke="#111" stroke-width="1.5"/>
<path d="M1151.6 402V401.5A3.8 3.8 0 0 1 1159.2 401.5V404.5" fill="none" stroke="#8A8A8A" stroke-width="1.3"/>
<rect x="1154.3" y="404.6" width="12" height="7.8" fill="#fff" stroke="#8A8A8A" stroke-width="1.3"/>
<circle cx="1160.3" cy="407.6" r="1.1" fill="#8A8A8A"/><rect x="1159.8" y="407.6" width="1" height="2.6" fill="#8A8A8A"/>
<rect x="992" y="415" width="159" height="24" fill="#EFEFEF"/>
<rect x="925" y="415" width="35" height="24" fill="#800000"/>
<path d="M968 427Q976 417.4 984 427Q976 436.6 968 427Z" fill="none" stroke="#111" stroke-width="1.4"/><circle cx="976" cy="427" r="3.3" fill="none" stroke="#111" stroke-width="1.5"/>
<path d="M1151.6 426V425.5A3.8 3.8 0 0 1 1159.2 425.5V428.5" fill="none" stroke="#8A8A8A" stroke-width="1.3"/>
<rect x="1154.3" y="428.6" width="12" height="7.8" fill="#fff" stroke="#8A8A8A" stroke-width="1.3"/>
<circle cx="1160.3" cy="431.6" r="1.1" fill="#8A8A8A"/><rect x="1159.8" y="431.6" width="1" height="2.6" fill="#8A8A8A"/>
<rect x="925" y="439" width="35" height="24" fill="#5555FF"/>
<path d="M968 451Q976 441.4 984 451Q976 460.6 968 451Z" fill="none" stroke="#111" stroke-width="1.4"/><circle cx="976" cy="451" r="3.3" fill="none" stroke="#111" stroke-width="1.5"/>
<path d="M1151.6 450V449.5A3.8 3.8 0 0 1 1159.2 449.5V452.5" fill="none" stroke="#8A8A8A" stroke-width="1.3"/>
<rect x="1154.3" y="452.6" width="12" height="7.8" fill="#fff" stroke="#8A8A8A" stroke-width="1.3"/>
<circle cx="1160.3" cy="455.6" r="1.1" fill="#8A8A8A"/><rect x="1159.8" y="455.6" width="1" height="2.6" fill="#8A8A8A"/>
<path d="M929.6 478H938V470Z" fill="#D2D2D2"/>
<path d="M950 475Q958 465.4 966 475Q958 484.6 950 475Z" fill="none" stroke="#111" stroke-width="1.4"/><circle cx="958" cy="475" r="3.3" fill="none" stroke="#111" stroke-width="1.5"/>
<path d="M1151.6 474V473.5A3.8 3.8 0 0 1 1159.2 473.5V476.5" fill="none" stroke="#8A8A8A" stroke-width="1.3"/>
<rect x="1154.3" y="476.6" width="12" height="7.8" fill="#fff" stroke="#8A8A8A" stroke-width="1.3"/>
<circle cx="1160.3" cy="479.6" r="1.1" fill="#8A8A8A"/><rect x="1159.8" y="479.6" width="1" height="2.6" fill="#8A8A8A"/>
<rect x="925" y="487" width="35" height="24" fill="#FF00FF"/>
<path d="M968 499Q976 489.4 984 499Q976 508.6 968 499Z" fill="none" stroke="#111" stroke-width="1.4"/><circle cx="976" cy="499" r="3.3" fill="none" stroke="#111" stroke-width="1.5"/>
<path d="M1151.6 498V497.5A3.8 3.8 0 0 1 1159.2 497.5V500.5" fill="none" stroke="#8A8A8A" stroke-width="1.3"/>
<rect x="1154.3" y="500.6" width="12" height="7.8" fill="#fff" stroke="#8A8A8A" stroke-width="1.3"/>
<circle cx="1160.3" cy="503.6" r="1.1" fill="#8A8A8A"/><rect x="1159.8" y="503.6" width="1" height="2.6" fill="#8A8A8A"/>
<rect x="925" y="511" width="35" height="24" fill="#C0C0C0"/>
<path d="M968 523Q976 513.4 984 523Q976 532.6 968 523Z" fill="none" stroke="#111" stroke-width="1.4"/><circle cx="976" cy="523" r="3.3" fill="none" stroke="#111" stroke-width="1.5"/>
<path d="M1151.6 522V521.5A3.8 3.8 0 0 1 1159.2 521.5V524.5" fill="none" stroke="#8A8A8A" stroke-width="1.3"/>
<rect x="1154.3" y="524.6" width="12" height="7.8" fill="#fff" stroke="#8A8A8A" stroke-width="1.3"/>
<circle cx="1160.3" cy="527.6" r="1.1" fill="#8A8A8A"/><rect x="1159.8" y="527.6" width="1" height="2.6" fill="#8A8A8A"/>
<rect x="925" y="535" width="35" height="24" fill="#FFFFFF"/>
<path d="M968 547Q976 537.4 984 547Q976 556.6 968 547Z" fill="none" stroke="#111" stroke-width="1.4"/><circle cx="976" cy="547" r="3.3" fill="none" stroke="#111" stroke-width="1.5"/>
<path d="M1151.6 546V545.5A3.8 3.8 0 0 1 1159.2 545.5V548.5" fill="none" stroke="#8A8A8A" stroke-width="1.3"/>
<rect x="1154.3" y="548.6" width="12" height="7.8" fill="#fff" stroke="#8A8A8A" stroke-width="1.3"/>
<circle cx="1160.3" cy="551.6" r="1.1" fill="#8A8A8A"/><rect x="1159.8" y="551.6" width="1" height="2.6" fill="#8A8A8A"/>
<rect x="925" y="559" width="35" height="24" fill="#F022F0"/>
<path d="M968 571Q976 561.4 984 571Q976 580.6 968 571Z" fill="none" stroke="#111" stroke-width="1.4"/><circle cx="976" cy="571" r="3.3" fill="none" stroke="#111" stroke-width="1.5"/>
<path d="M1151.6 570V569.5A3.8 3.8 0 0 1 1159.2 569.5V572.5" fill="none" stroke="#8A8A8A" stroke-width="1.3"/>
<rect x="1154.3" y="572.6" width="12" height="7.8" fill="#fff" stroke="#8A8A8A" stroke-width="1.3"/>
<circle cx="1160.3" cy="575.6" r="1.1" fill="#8A8A8A"/><rect x="1159.8" y="575.6" width="1" height="2.6" fill="#8A8A8A"/>
<rect x="925" y="583" width="35" height="24" fill="#0D8080"/>
<path d="M968 595Q976 585.4 984 595Q976 604.6 968 595Z" fill="none" stroke="#111" stroke-width="1.4"/><circle cx="976" cy="595" r="3.3" fill="none" stroke="#111" stroke-width="1.5"/>
<path d="M1151.6 594V593.5A3.8 3.8 0 0 1 1159.2 593.5V596.5" fill="none" stroke="#8A8A8A" stroke-width="1.3"/>
<rect x="1154.3" y="596.6" width="12" height="7.8" fill="#fff" stroke="#8A8A8A" stroke-width="1.3"/>
<circle cx="1160.3" cy="599.6" r="1.1" fill="#8A8A8A"/><rect x="1159.8" y="599.6" width="1" height="2.6" fill="#8A8A8A"/>
<rect x="925" y="607" width="35" height="24" fill="#6464FF"/>
<path d="M968 619Q976 609.4 984 619Q976 628.6 968 619Z" fill="none" stroke="#111" stroke-width="1.4"/><circle cx="976" cy="619" r="3.3" fill="none" stroke="#111" stroke-width="1.5"/>
<path d="M1155.5 620.5V616.5A4.5 4.5 0 0 1 1164.5 616.5V620.5" fill="none" stroke="#1E88FF" stroke-width="1.3"/>
<rect x="1154.3" y="620.6" width="12" height="7.8" fill="#fff" stroke="#1E88FF" stroke-width="1.3"/>
<circle cx="1160.3" cy="623.6" r="1.1" fill="#1E88FF"/><rect x="1159.8" y="623.6" width="1" height="2.6" fill="#1E88FF"/>
<path d="M929.6 646H938V638Z" fill="#D2D2D2"/>
<path d="M950 643Q958 633.4 966 643Q958 652.6 950 643Z" fill="none" stroke="#C4C4C4" stroke-width="1.3"/><circle cx="958" cy="643" r="3.2" fill="none" stroke="#C4C4C4" stroke-width="1.3"/><path d="M952 649L964 637" stroke="#C4C4C4" stroke-width="1.3"/>
<path d="M1151.6 642V641.5A3.8 3.8 0 0 1 1159.2 641.5V644.5" fill="none" stroke="#8A8A8A" stroke-width="1.3"/>
<rect x="1154.3" y="644.6" width="12" height="7.8" fill="#fff" stroke="#8A8A8A" stroke-width="1.3"/>
<circle cx="1160.3" cy="647.6" r="1.1" fill="#8A8A8A"/><rect x="1159.8" y="647.6" width="1" height="2.6" fill="#8A8A8A"/>
<rect x="925" y="655" width="35" height="24" fill="#00CCCC"/>
<path d="M968 667Q976 657.4 984 667Q976 676.6 968 667Z" fill="none" stroke="#C4C4C4" stroke-width="1.3"/><circle cx="976" cy="667" r="3.2" fill="none" stroke="#C4C4C4" stroke-width="1.3"/><path d="M970 673L982 661" stroke="#C4C4C4" stroke-width="1.3"/>
<path d="M1151.6 666V665.5A3.8 3.8 0 0 1 1159.2 665.5V668.5" fill="none" stroke="#8A8A8A" stroke-width="1.3"/>
<rect x="1154.3" y="668.6" width="12" height="7.8" fill="#fff" stroke="#8A8A8A" stroke-width="1.3"/>
<circle cx="1160.3" cy="671.6" r="1.1" fill="#8A8A8A"/><rect x="1159.8" y="671.6" width="1" height="2.6" fill="#8A8A8A"/>
<rect x="925" y="679" width="35" height="24" fill="#66FFCC"/>
<path d="M968 691Q976 681.4 984 691Q976 700.6 968 691Z" fill="none" stroke="#C4C4C4" stroke-width="1.3"/><circle cx="976" cy="691" r="3.2" fill="none" stroke="#C4C4C4" stroke-width="1.3"/><path d="M970 697L982 685" stroke="#C4C4C4" stroke-width="1.3"/>
<path d="M1151.6 690V689.5A3.8 3.8 0 0 1 1159.2 689.5V692.5" fill="none" stroke="#8A8A8A" stroke-width="1.3"/>
<rect x="1154.3" y="692.6" width="12" height="7.8" fill="#fff" stroke="#8A8A8A" stroke-width="1.3"/>
<circle cx="1160.3" cy="695.6" r="1.1" fill="#8A8A8A"/><rect x="1159.8" y="695.6" width="1" height="2.6" fill="#8A8A8A"/>
<rect x="925" y="703" width="35" height="24" fill="#CC9999"/>
<path d="M968 715Q976 705.4 984 715Q976 724.6 968 715Z" fill="none" stroke="#C4C4C4" stroke-width="1.3"/><circle cx="976" cy="715" r="3.2" fill="none" stroke="#C4C4C4" stroke-width="1.3"/><path d="M970 721L982 709" stroke="#C4C4C4" stroke-width="1.3"/>
<path d="M1151.6 714V713.5A3.8 3.8 0 0 1 1159.2 713.5V716.5" fill="none" stroke="#8A8A8A" stroke-width="1.3"/>
<rect x="1154.3" y="716.6" width="12" height="7.8" fill="#fff" stroke="#8A8A8A" stroke-width="1.3"/>
<circle cx="1160.3" cy="719.6" r="1.1" fill="#8A8A8A"/><rect x="1159.8" y="719.6" width="1" height="2.6" fill="#8A8A8A"/>
</svg>
<div class="t" style="left:974px;top:158px;font-size:12px;color:#333">全部</div>
<div class="t" style="left:974px;top:182px;font-size:12px;color:#333">顶面</div>
<div class="t" style="left:992px;top:206px;font-size:12px;color:#333">1 顶层</div>
<div class="t" style="left:992px;top:230px;font-size:12px;color:#333">3 顶层丝印层</div>
<div class="t" style="left:992px;top:254px;font-size:12px;color:#333">5 顶层阻焊层</div>
<div class="t" style="left:992px;top:278px;font-size:12px;color:#333">7 顶层锡膏层</div>
<div class="t" style="left:992px;top:302px;font-size:12px;color:#333">9 顶层装配层</div>
<div class="t" style="left:974px;top:326px;font-size:12px;color:#333">底面</div>
<div class="t" style="left:992px;top:350px;font-size:12px;color:#333">2 底层</div>
<div class="t" style="left:992px;top:374px;font-size:12px;color:#333">4 底层丝印层</div>
<div class="t" style="left:992px;top:398px;font-size:12px;color:#333">6 底层阻焊层</div>
<div class="t" style="left:992px;top:422px;font-size:12px;color:#333">8 底层锡膏层</div>
<div class="t" style="left:992px;top:446px;font-size:12px;color:#333">10 底层装配层</div>
<div class="t" style="left:974px;top:470px;font-size:12px;color:#333">其他</div>
<div class="t" style="left:992px;top:494px;font-size:12px;color:#333">11 板框层</div>
<div class="t" style="left:992px;top:518px;font-size:12px;color:#333">12 多层</div>
<div class="t" style="left:992px;top:542px;font-size:12px;color:#333">13 文档层</div>
<div class="t" style="left:992px;top:566px;font-size:12px;color:#333">14 机械层</div>
<div class="t" style="left:992px;top:590px;font-size:12px;color:#333">56 钻孔图层</div>
<div class="t" style="left:992px;top:614px;font-size:12px;color:#333">57 飞线层</div>
<div class="t" style="left:974px;top:638px;font-size:12px;color:#333">元件</div>
<div class="t" style="left:992px;top:662px;font-size:12px;color:#333">48 元件外形层</div>
<div class="t" style="left:992px;top:686px;font-size:12px;color:#333">49 元件标识层</div>
<div class="t" style="left:992px;top:710px;font-size:12px;color:#333">50 引脚焊接层</div>
<svg class="a" style="left:0;top:0" width="1212" height="720" viewBox="0 0 1212 720">
<path d="M1175.7 177.9L1079.4 192.6 1004.1 205.4 1002.6 200.2 982.4 214.7 1006.8 221.7 1005.9 215.2 1080.6 199.5 1175.7 178.7Z" fill="#F23A3A"/>
<path d="M664.7 509.6L803.9 422.1 1007.8 294.2 1127.6 220.1 1165 197.7 1162.3 192.4 1186.9 189 1172.7 209.2 1170 205.3 1132.4 227.9 1012.2 301.4 806.1 425.7 665.3 510.4Z" fill="#F23A3A"/>
</svg>

</body></html>
